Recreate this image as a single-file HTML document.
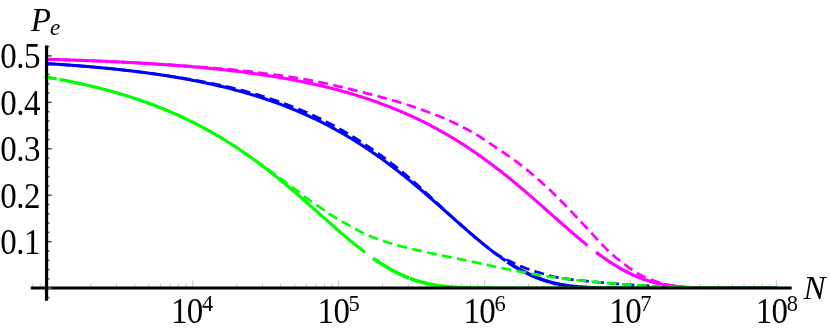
<!DOCTYPE html>
<html><head><meta charset="utf-8"><title>Pe vs N</title>
<style>
html,body{margin:0;padding:0;background:#fff;}
svg{display:block}
.t{font-family:"Liberation Serif",serif;font-size:35.1px;fill:#000}
.i{font-family:"Liberation Serif",serif;font-style:italic;fill:#000}
</style></head><body>
<svg width="830" height="332" viewBox="0 0 830 332">
<rect width="830" height="332" fill="#fff"/>
<g><line x1="46.90" y1="287.2" x2="46.90" y2="280.2" stroke="#aaa" stroke-width="0.7"/><line x1="90.82" y1="287.2" x2="90.82" y2="283.7" stroke="#aaa" stroke-width="0.7"/><line x1="116.51" y1="287.2" x2="116.51" y2="283.7" stroke="#aaa" stroke-width="0.7"/><line x1="134.74" y1="287.2" x2="134.74" y2="283.7" stroke="#aaa" stroke-width="0.7"/><line x1="148.88" y1="287.2" x2="148.88" y2="283.7" stroke="#aaa" stroke-width="0.7"/><line x1="160.43" y1="287.2" x2="160.43" y2="283.7" stroke="#aaa" stroke-width="0.7"/><line x1="170.20" y1="287.2" x2="170.20" y2="283.7" stroke="#aaa" stroke-width="0.7"/><line x1="178.66" y1="287.2" x2="178.66" y2="283.7" stroke="#aaa" stroke-width="0.7"/><line x1="186.12" y1="287.2" x2="186.12" y2="283.7" stroke="#aaa" stroke-width="0.7"/><line x1="192.80" y1="287.2" x2="192.80" y2="280.2" stroke="#aaa" stroke-width="0.7"/><line x1="236.72" y1="287.2" x2="236.72" y2="283.7" stroke="#aaa" stroke-width="0.7"/><line x1="262.41" y1="287.2" x2="262.41" y2="283.7" stroke="#aaa" stroke-width="0.7"/><line x1="280.64" y1="287.2" x2="280.64" y2="283.7" stroke="#aaa" stroke-width="0.7"/><line x1="294.78" y1="287.2" x2="294.78" y2="283.7" stroke="#aaa" stroke-width="0.7"/><line x1="306.33" y1="287.2" x2="306.33" y2="283.7" stroke="#aaa" stroke-width="0.7"/><line x1="316.10" y1="287.2" x2="316.10" y2="283.7" stroke="#aaa" stroke-width="0.7"/><line x1="324.56" y1="287.2" x2="324.56" y2="283.7" stroke="#aaa" stroke-width="0.7"/><line x1="332.02" y1="287.2" x2="332.02" y2="283.7" stroke="#aaa" stroke-width="0.7"/><line x1="338.70" y1="287.2" x2="338.70" y2="280.2" stroke="#aaa" stroke-width="0.7"/><line x1="382.62" y1="287.2" x2="382.62" y2="283.7" stroke="#aaa" stroke-width="0.7"/><line x1="408.31" y1="287.2" x2="408.31" y2="283.7" stroke="#aaa" stroke-width="0.7"/><line x1="426.54" y1="287.2" x2="426.54" y2="283.7" stroke="#aaa" stroke-width="0.7"/><line x1="440.68" y1="287.2" x2="440.68" y2="283.7" stroke="#aaa" stroke-width="0.7"/><line x1="452.23" y1="287.2" x2="452.23" y2="283.7" stroke="#aaa" stroke-width="0.7"/><line x1="462.00" y1="287.2" x2="462.00" y2="283.7" stroke="#aaa" stroke-width="0.7"/><line x1="470.46" y1="287.2" x2="470.46" y2="283.7" stroke="#aaa" stroke-width="0.7"/><line x1="477.92" y1="287.2" x2="477.92" y2="283.7" stroke="#aaa" stroke-width="0.7"/><line x1="484.60" y1="287.2" x2="484.60" y2="280.2" stroke="#aaa" stroke-width="0.7"/><line x1="528.52" y1="287.2" x2="528.52" y2="283.7" stroke="#aaa" stroke-width="0.7"/><line x1="554.21" y1="287.2" x2="554.21" y2="283.7" stroke="#aaa" stroke-width="0.7"/><line x1="572.44" y1="287.2" x2="572.44" y2="283.7" stroke="#aaa" stroke-width="0.7"/><line x1="586.58" y1="287.2" x2="586.58" y2="283.7" stroke="#aaa" stroke-width="0.7"/><line x1="598.13" y1="287.2" x2="598.13" y2="283.7" stroke="#aaa" stroke-width="0.7"/><line x1="607.90" y1="287.2" x2="607.90" y2="283.7" stroke="#aaa" stroke-width="0.7"/><line x1="616.36" y1="287.2" x2="616.36" y2="283.7" stroke="#aaa" stroke-width="0.7"/><line x1="623.82" y1="287.2" x2="623.82" y2="283.7" stroke="#aaa" stroke-width="0.7"/><line x1="630.50" y1="287.2" x2="630.50" y2="280.2" stroke="#aaa" stroke-width="0.7"/><line x1="674.42" y1="287.2" x2="674.42" y2="283.7" stroke="#aaa" stroke-width="0.7"/><line x1="700.11" y1="287.2" x2="700.11" y2="283.7" stroke="#aaa" stroke-width="0.7"/><line x1="718.34" y1="287.2" x2="718.34" y2="283.7" stroke="#aaa" stroke-width="0.7"/><line x1="732.48" y1="287.2" x2="732.48" y2="283.7" stroke="#aaa" stroke-width="0.7"/><line x1="744.03" y1="287.2" x2="744.03" y2="283.7" stroke="#aaa" stroke-width="0.7"/><line x1="753.80" y1="287.2" x2="753.80" y2="283.7" stroke="#aaa" stroke-width="0.7"/><line x1="762.26" y1="287.2" x2="762.26" y2="283.7" stroke="#aaa" stroke-width="0.7"/><line x1="769.72" y1="287.2" x2="769.72" y2="283.7" stroke="#aaa" stroke-width="0.7"/><line x1="776.40" y1="287.2" x2="776.40" y2="280.2" stroke="#aaa" stroke-width="0.7"/><line x1="32.76" y1="287.2" x2="32.76" y2="283.7" stroke="#aaa" stroke-width="0.7"/><line x1="40.22" y1="287.2" x2="40.22" y2="283.7" stroke="#aaa" stroke-width="0.7"/></g>
<g><line x1="46.9" y1="297.49" x2="49.60" y2="297.49" stroke="#666" stroke-width="1.6"/><line x1="46.9" y1="278.91" x2="49.60" y2="278.91" stroke="#666" stroke-width="1.6"/><line x1="46.9" y1="269.61" x2="49.60" y2="269.61" stroke="#666" stroke-width="1.6"/><line x1="46.9" y1="260.32" x2="49.60" y2="260.32" stroke="#666" stroke-width="1.6"/><line x1="46.9" y1="251.02" x2="49.60" y2="251.02" stroke="#666" stroke-width="1.6"/><line x1="46.9" y1="241.73" x2="51.60" y2="241.73" stroke="#555" stroke-width="1.6"/><line x1="46.9" y1="232.44" x2="49.60" y2="232.44" stroke="#666" stroke-width="1.6"/><line x1="46.9" y1="223.14" x2="49.60" y2="223.14" stroke="#666" stroke-width="1.6"/><line x1="46.9" y1="213.85" x2="49.60" y2="213.85" stroke="#666" stroke-width="1.6"/><line x1="46.9" y1="204.55" x2="49.60" y2="204.55" stroke="#666" stroke-width="1.6"/><line x1="46.9" y1="195.26" x2="51.60" y2="195.26" stroke="#555" stroke-width="1.6"/><line x1="46.9" y1="185.97" x2="49.60" y2="185.97" stroke="#666" stroke-width="1.6"/><line x1="46.9" y1="176.67" x2="49.60" y2="176.67" stroke="#666" stroke-width="1.6"/><line x1="46.9" y1="167.38" x2="49.60" y2="167.38" stroke="#666" stroke-width="1.6"/><line x1="46.9" y1="158.08" x2="49.60" y2="158.08" stroke="#666" stroke-width="1.6"/><line x1="46.9" y1="148.79" x2="51.60" y2="148.79" stroke="#555" stroke-width="1.6"/><line x1="46.9" y1="139.50" x2="49.60" y2="139.50" stroke="#666" stroke-width="1.6"/><line x1="46.9" y1="130.20" x2="49.60" y2="130.20" stroke="#666" stroke-width="1.6"/><line x1="46.9" y1="120.91" x2="49.60" y2="120.91" stroke="#666" stroke-width="1.6"/><line x1="46.9" y1="111.61" x2="49.60" y2="111.61" stroke="#666" stroke-width="1.6"/><line x1="46.9" y1="102.32" x2="51.60" y2="102.32" stroke="#555" stroke-width="1.6"/><line x1="46.9" y1="93.03" x2="49.60" y2="93.03" stroke="#666" stroke-width="1.6"/><line x1="46.9" y1="83.73" x2="49.60" y2="83.73" stroke="#666" stroke-width="1.6"/><line x1="46.9" y1="74.44" x2="49.60" y2="74.44" stroke="#666" stroke-width="1.6"/><line x1="46.9" y1="65.14" x2="49.60" y2="65.14" stroke="#666" stroke-width="1.6"/><line x1="46.9" y1="55.85" x2="51.60" y2="55.85" stroke="#555" stroke-width="1.6"/><line x1="46.9" y1="46.56" x2="49.60" y2="46.56" stroke="#666" stroke-width="1.6"/></g>
<clipPath id="cp"><rect x="0" y="0" width="830" height="286.9"/></clipPath>
<g stroke-linecap="butt" stroke-linejoin="round" clip-path="url(#cp)">
<path d="M45.00,63.49 L46.00,63.55 L47.00,63.61 L48.00,63.68 L49.00,63.74 L50.00,63.80 L51.00,63.86 L52.00,63.93 L53.00,63.99 L54.00,64.05 L55.00,64.12 L56.00,64.18 L57.00,64.25 L58.00,64.32 L59.00,64.38 L60.00,64.45 L61.00,64.52 L62.00,64.59 L63.00,64.66 L64.00,64.73 L65.00,64.80 L66.00,64.87 L67.00,64.94 L68.00,65.01 L69.00,65.08 L70.00,65.16 L71.00,65.23 L72.00,65.31 L73.00,65.38 L74.00,65.46 L75.00,65.53 L76.00,65.61 L77.00,65.69 L78.00,65.76 L79.00,65.84 L80.00,65.92 L81.00,66.00 L82.00,66.08 L83.00,66.16 L84.00,66.24 L85.00,66.33 L86.00,66.41 L87.00,66.49 L88.00,66.58 L89.00,66.66 L90.00,66.75 L91.00,66.83 L92.00,66.92 L93.00,67.01 L94.00,67.10 L95.00,67.18 L96.00,67.27 L97.00,67.36 L98.00,67.46 L99.00,67.55 L100.00,67.64 L101.00,67.73 L102.00,67.83 L103.00,67.92 L104.00,68.02 L105.00,68.11 L106.00,68.21 L107.00,68.31 L108.00,68.41 L109.00,68.51 L110.00,68.61 L111.00,68.71 L112.00,68.81 L113.00,68.91 L114.00,69.02 L115.00,69.12 L116.00,69.22 L117.00,69.33 L118.00,69.44 L119.00,69.54 L120.00,69.65 L121.00,69.76 L122.00,69.87 L123.00,69.98 L124.00,70.09 L125.00,70.21 L126.00,70.32 L127.00,70.43 L128.00,70.55 L129.00,70.67 L130.00,70.78 L131.00,70.90 L132.00,71.02 L133.00,71.14 L134.00,71.26 L135.00,71.38 L136.00,71.51 L137.00,71.63 L138.00,71.75 L139.00,71.88 L140.00,72.01 L141.00,72.13 L142.00,72.26 L143.00,72.39 L144.00,72.52 L145.00,72.66 L146.00,72.79 L147.00,72.92 L148.00,73.06 L149.00,73.19 L150.00,73.33 L151.00,73.47 L152.00,73.61 L153.00,73.75 L154.00,73.89 L155.00,74.03 L156.00,74.17 L157.00,74.32 L158.00,74.46 L159.00,74.61 L160.00,74.76 L161.00,74.91 L162.00,75.06 L163.00,75.21 L164.00,75.36 L165.00,75.52 L166.00,75.67 L167.00,75.83 L168.00,75.99 L169.00,76.15 L170.00,76.31 L171.00,76.47 L172.00,76.63 L173.00,76.79 L174.00,76.96 L175.00,77.13 L176.00,77.29 L177.00,77.46 L178.00,77.63 L179.00,77.81 L180.00,77.98 L181.00,78.15 L182.00,78.33 L183.00,78.51 L184.00,78.68 L185.00,78.86 L186.00,79.05 L187.00,79.23 L188.00,79.41 L189.00,79.60 L190.00,79.79 L191.00,79.97 L192.00,80.16 L193.00,80.36 L194.00,80.55 L195.00,80.74 L196.00,80.94 L197.00,81.14 L198.00,81.34 L199.00,81.54 L200.00,81.74 L201.00,81.94 L202.00,82.15 L203.00,82.35 L204.00,82.56 L205.00,82.77 L206.00,82.98 L207.00,83.20 L208.00,83.41 L209.00,83.63 L210.00,83.85 L211.00,84.07 L212.00,84.29 L213.00,84.51 L214.00,84.74 L215.00,84.97 L216.00,85.19 L217.00,85.43 L218.00,85.66 L219.00,85.89 L220.00,86.13 L221.00,86.37 L222.00,86.60 L223.00,86.85 L224.00,87.09 L225.00,87.33 L226.00,87.58 L227.00,87.83 L228.00,88.08 L229.00,88.33 L230.00,88.59 L231.00,88.85 L232.00,89.10 L233.00,89.36 L234.00,89.63 L235.00,89.89 L236.00,90.16 L237.00,90.43 L238.00,90.70 L239.00,90.97 L240.00,91.24 L241.00,91.52 L242.00,91.80 L243.00,92.08 L244.00,92.37 L245.00,92.65 L246.00,92.94 L247.00,93.23 L248.00,93.52 L249.00,93.81 L250.00,94.11 L251.00,94.41 L252.00,94.71 L253.00,95.01 L254.00,95.32 L255.00,95.63 L256.00,95.94 L257.00,96.25 L258.00,96.56 L259.00,96.88 L260.00,97.20 L261.00,97.52 L262.00,97.85 L263.00,98.18 L264.00,98.50 L265.00,98.84 L266.00,99.17 L267.00,99.51 L268.00,99.85 L269.00,100.19 L270.00,100.53 L271.00,100.88 L272.00,101.23 L273.00,101.58 L274.00,101.94 L275.00,102.29 L276.00,102.65 L277.00,103.02 L278.00,103.38 L279.00,103.75 L280.00,104.12 L281.00,104.49 L282.00,104.87 L283.00,105.25 L284.00,105.63 L285.00,106.02 L286.00,106.40 L287.00,106.79 L288.00,107.19 L289.00,107.58 L290.00,107.98 L291.00,108.38 L292.00,108.79 L293.00,109.20 L294.00,109.61 L295.00,110.02 L296.00,110.44 L297.00,110.86 L298.00,111.28 L299.00,111.71 L300.00,112.13 L301.00,112.57 L302.00,113.00 L303.00,113.44 L304.00,113.88 L305.00,114.32 L306.00,114.77 L307.00,115.22 L308.00,115.68 L309.00,116.13 L310.00,116.59 L311.00,117.06 L312.00,117.52 L313.00,117.99 L314.00,118.47 L315.00,118.94 L316.00,119.42 L317.00,119.91 L318.00,120.39 L319.00,120.88 L320.00,121.37 L321.00,121.87 L322.00,122.37 L323.00,122.88 L324.00,123.38 L325.00,123.89 L326.00,124.41 L327.00,124.92 L328.00,125.44 L329.00,125.97 L330.00,126.50 L331.00,127.03 L332.00,127.56 L333.00,128.10 L334.00,128.64 L335.00,129.19 L336.00,129.74 L337.00,130.29 L338.00,130.85 L339.00,131.41 L340.00,131.97 L341.00,132.54 L342.00,133.11 L343.00,133.69 L344.00,134.27 L345.00,134.85 L346.00,135.43 L347.00,136.02 L348.00,136.62 L349.00,137.21 L350.00,137.81 L351.00,138.42 L352.00,139.03 L353.00,139.64 L354.00,140.26 L355.00,140.88 L356.00,141.50 L357.00,142.13 L358.00,142.76 L359.00,143.39 L360.00,144.03 L361.00,144.68 L362.00,145.32 L363.00,145.97 L364.00,146.63 L365.00,147.28 L366.00,147.95 L367.00,148.61 L368.00,149.28 L369.00,149.96 L370.00,150.63 L371.00,151.31 L372.00,152.00 L373.00,152.69 L374.00,153.38 L375.00,154.08 L376.00,154.78 L377.00,155.48 L378.00,156.19 L379.00,156.90 L380.00,157.61 L381.00,158.33 L382.00,159.05 L383.00,159.78 L384.00,160.51 L385.00,161.24 L386.00,161.98 L387.00,162.72 L388.00,163.47 L389.00,164.22 L390.00,164.97 L391.00,165.72 L392.00,166.48 L393.00,167.25 L394.00,168.01 L395.00,168.78 L396.00,169.56 L397.00,170.33 L398.00,171.11 L399.00,171.90 L400.00,172.68 L401.00,173.47 L402.00,174.27 L403.00,175.07 L404.00,175.87 L405.00,176.67 L406.00,177.48 L407.00,178.29 L408.00,179.10 L409.00,179.91 L410.00,180.73 L411.00,181.56 L412.00,182.38 L413.00,183.21 L414.00,184.04 L415.00,184.87 L416.00,185.71 L417.00,186.55 L418.00,187.39 L419.00,188.23 L420.00,189.08 L421.00,189.93 L422.00,190.78 L423.00,191.63 L424.00,192.49 L425.00,193.35 L426.00,194.21 L427.00,195.07 L428.00,195.94 L429.00,196.80 L430.00,197.67 L431.00,198.54 L432.00,199.41 L433.00,200.29 L434.00,201.16 L435.00,202.04 L436.00,202.92 L437.00,203.80 L438.00,204.68 L439.00,205.56 L440.00,206.44 L441.00,207.32 L442.00,208.21 L443.00,209.09 L444.00,209.98 L445.00,210.86 L446.00,211.75 L447.00,212.64 L448.00,213.52 L449.00,214.41 L450.00,215.30 L451.00,216.19 L452.00,217.07 L453.00,217.96 L454.00,218.85 L455.00,219.73 L456.00,220.62 L457.00,221.50 L458.00,222.38 L459.00,223.27 L460.00,224.15 L461.00,225.03 L462.00,225.91 L463.00,226.78 L464.00,227.66 L465.00,228.53 L466.00,229.40 L467.00,230.27 L468.00,231.14 L469.00,232.00 L470.00,232.86 L471.00,233.72 L472.00,234.58 L473.00,235.43 L474.00,236.28 L475.00,237.13 L476.00,237.97 L477.00,238.81 L478.00,239.65 L479.00,240.48 L480.00,241.31 L481.00,242.14 L482.00,242.96 L483.00,243.77 L484.00,244.59 L485.00,245.39 L486.00,246.19 L487.00,246.99 L488.00,247.78 L489.00,248.57 L490.00,249.35 L491.00,250.13 L492.00,250.90 L493.00,251.66 L494.00,252.42 L495.00,253.17 L496.00,253.92 L497.00,254.65 L498.00,255.39 L499.00,256.11 L500.00,256.83 L501.00,257.54 L502.00,258.25 L503.00,258.95 L504.00,259.64 L505.00,260.32 L505.50,260.66" fill="none" stroke="#0000ff" stroke-width="3.1"/>
<path d="M507.40,261.93 L508.40,262.58 L509.40,263.23 L510.40,263.87 L511.40,264.51 L512.40,265.13 L513.40,265.75 L514.40,266.35 L515.40,266.95 L516.40,267.54 L517.40,268.12 L518.40,268.69 L519.40,269.26 L520.40,269.81 L521.40,270.36 L522.40,270.89 L523.40,271.42 L524.40,271.94 L525.40,272.45 L526.40,272.95 L527.40,273.44 L528.40,273.92 L529.40,274.39 L530.40,274.85 L531.40,275.30 L532.40,275.75 L533.40,276.18 L534.40,276.61 L535.40,277.02 L536.40,277.43 L537.40,277.82 L538.40,278.21 L539.40,278.59 L540.40,278.95 L541.40,279.31 L542.40,279.66 L543.40,280.00 L544.40,280.33 L545.40,280.66 L546.40,280.97 L547.40,281.27 L548.40,281.57 L549.40,281.86 L550.40,282.13 L551.40,282.40 L552.40,282.67 L553.40,282.92 L554.40,283.16 L555.40,283.40 L556.40,283.63 L557.40,283.85 L558.40,284.06 L559.40,284.27 L560.40,284.47 L561.40,284.66 L562.40,284.84 L563.40,285.02 L564.40,285.19 L565.40,285.35 L566.40,285.50 L567.40,285.65 L568.40,285.80 L569.40,285.93 L570.40,286.07 L571.40,286.19 L572.40,286.31 L573.40,286.42 L574.40,286.53 L575.40,286.64 L576.40,286.73 L577.40,286.83 L578.40,286.92 L579.40,287.00 L580.40,287.08 L581.40,287.16 L582.40,287.23 L583.40,287.29 L584.40,287.36 L585.40,287.42 L586.40,287.47 L587.40,287.53 L588.40,287.58 L589.40,287.62 L590.40,287.67 L591.40,287.71 L592.40,287.75 L593.40,287.78 L594.40,287.82 L595.40,287.85 L596.40,287.88 L597.40,287.91 L598.40,287.93 L599.40,287.95 L600.40,287.98 L601.40,288.00 L602.40,288.01 L603.40,288.03 L604.40,288.05 L605.40,288.06 L606.40,288.07 L607.40,288.09 L608.40,288.10 L609.40,288.11 L610.40,288.12 L611.40,288.13 L612.40,288.13 L613.40,288.14 L614.40,288.15 L615.40,288.15 L616.40,288.16 L617.40,288.16 L618.40,288.17 L619.40,288.17 L620.40,288.17 L621.40,288.18 L622.40,288.18 L623.40,288.18 L624.40,288.18 L625.40,288.19 L626.40,288.19 L627.40,288.19 L628.40,288.19 L629.40,288.19 L630.40,288.19 L631.40,288.19 L632.40,288.20 L633.40,288.20 L634.40,288.20 L635.40,288.20 L636.40,288.20 L637.40,288.20 L638.40,288.20 L639.40,288.20 L640.40,288.20 L641.40,288.20 L642.40,288.20 L643.40,288.20 L644.40,288.20 L645.40,288.20 L646.40,288.20 L647.40,288.20 L648.40,288.20 L649.40,288.20 L650.40,288.20 L651.40,288.20 L652.40,288.20 L653.40,288.20 L654.40,288.20 L655.40,288.20 L656.40,288.20 L657.40,288.20 L658.40,288.20 L659.40,288.20 L660.40,288.20 L661.40,288.20 L662.40,288.20 L663.40,288.20 L664.40,288.20 L665.40,288.20 L666.40,288.20 L667.40,288.20 L668.40,288.20 L669.40,288.20 L670.40,288.20 L671.40,288.20 L672.40,288.20 L673.40,288.20 L674.40,288.20 L675.40,288.20 L676.40,288.20 L677.40,288.20 L678.40,288.20 L679.40,288.20 L680.40,288.20 L681.40,288.20 L682.40,288.20 L683.40,288.20 L684.40,288.20 L685.40,288.20 L686.40,288.20 L687.40,288.20 L688.40,288.20 L689.40,288.20 L690.40,288.20 L691.40,288.20 L692.40,288.20 L693.40,288.20 L694.40,288.20 L695.40,288.20 L696.40,288.20 L697.40,288.20 L698.40,288.20 L699.40,288.20 L700.40,288.20 L701.40,288.20 L702.40,288.20 L703.40,288.20 L704.40,288.20 L705.40,288.20 L706.40,288.20 L707.40,288.20 L708.40,288.20 L709.40,288.20 L710.40,288.20 L711.40,288.20 L712.40,288.20 L713.40,288.20 L714.40,288.20 L715.40,288.20 L716.40,288.20 L717.40,288.20 L718.40,288.20 L719.40,288.20 L720.40,288.20 L721.40,288.20 L722.40,288.20 L723.40,288.20 L724.40,288.20 L725.40,288.20 L726.40,288.20 L727.40,288.20 L728.40,288.20 L729.40,288.20 L730.40,288.20 L731.40,288.20 L732.40,288.20 L733.40,288.20 L734.40,288.20 L735.40,288.20 L736.40,288.20 L737.40,288.20 L738.40,288.20 L739.40,288.20 L740.40,288.20 L741.40,288.20 L742.40,288.20 L743.40,288.20 L744.40,288.20 L745.40,288.20 L746.40,288.20 L747.40,288.20 L748.40,288.20 L749.40,288.20 L750.40,288.20 L751.40,288.20 L752.40,288.20 L753.40,288.20 L754.40,288.20 L755.40,288.20 L756.40,288.20 L757.40,288.20 L758.40,288.20 L759.40,288.20 L760.40,288.20 L761.40,288.20 L762.40,288.20 L763.40,288.20 L764.40,288.20 L765.40,288.20 L766.40,288.20 L767.40,288.20 L768.40,288.20 L769.40,288.20 L770.40,288.20 L771.40,288.20 L772.40,288.20 L773.40,288.20 L774.40,288.20 L775.40,288.20 L776.40,288.20 L777.40,288.20 L778.00,288.20" fill="none" stroke="#0000ff" stroke-width="3.6"/>
<path d="M45.00,63.49 L46.00,63.55 L47.00,63.61 L48.00,63.68 L49.00,63.74 L50.00,63.80 L51.00,63.86 L52.00,63.93 L53.00,63.99 L54.00,64.05 L55.00,64.12 L56.00,64.18 L57.00,64.25 L58.00,64.32 L59.00,64.38 L60.00,64.45 L61.00,64.52 L62.00,64.59 L63.00,64.66 L64.00,64.73 L65.00,64.80 L66.00,64.87 L67.00,64.94 L68.00,65.01 L69.00,65.08 L70.00,65.16 L71.00,65.23 L72.00,65.31 L73.00,65.38 L74.00,65.46 L75.00,65.53 L76.00,65.61 L77.00,65.69 L78.00,65.76 L79.00,65.84 L80.00,65.92 L81.00,66.00 L82.00,66.08 L83.00,66.16 L84.00,66.24 L85.00,66.33 L86.00,66.41 L87.00,66.49 L88.00,66.58 L89.00,66.66 L90.00,66.75 L91.00,66.83 L92.00,66.92 L93.00,67.01 L94.00,67.10 L95.00,67.18 L96.00,67.27 L97.00,67.36 L98.00,67.46 L99.00,67.55 L100.00,67.64 L101.00,67.73 L102.00,67.83 L103.00,67.92 L104.00,68.02 L105.00,68.11 L106.00,68.21 L107.00,68.31 L108.00,68.41 L109.00,68.51 L110.00,68.61 L111.00,68.71 L112.00,68.81 L113.00,68.91 L114.00,69.02 L115.00,69.12 L116.00,69.22 L117.00,69.33 L118.00,69.44 L119.00,69.54 L120.00,69.65 L121.00,69.76 L122.00,69.87 L123.00,69.98 L124.00,70.09 L125.00,70.21 L126.00,70.32 L127.00,70.43 L128.00,70.55 L129.00,70.67 L130.00,70.78 L131.00,70.90 L132.00,71.02 L133.00,71.14 L134.00,71.26 L135.00,71.38 L136.00,71.51 L137.00,71.63 L138.00,71.75 L139.00,71.88 L140.00,72.01 L141.00,72.13 L142.00,72.26 L143.00,72.39 L144.00,72.52 L145.00,72.66 L146.00,72.79 L147.00,72.92 L148.00,73.06 L149.00,73.19 L150.00,73.33 L151.00,73.47 L152.00,73.60 L153.00,73.74 L154.00,73.88 L155.00,74.02 L156.00,74.15 L157.00,74.29 L158.00,74.43 L159.00,74.57 L160.00,74.71 L161.00,74.85 L162.00,74.99 L163.00,75.13 L164.00,75.27 L165.00,75.41 L166.00,75.56 L167.00,75.70 L168.00,75.85 L169.00,75.99 L170.00,76.14 L171.00,76.29 L172.00,76.44 L173.00,76.59 L174.00,76.74 L175.00,76.89 L176.00,77.05 L177.00,77.20 L178.00,77.36 L179.00,77.52 L180.00,77.68 L181.00,77.84 L182.00,78.00 L183.00,78.17 L184.00,78.33 L185.00,78.50 L186.00,78.67 L187.00,78.84 L188.00,79.01 L189.00,79.18 L190.00,79.35 L191.00,79.52 L192.00,79.70 L193.00,79.87 L194.00,80.05 L195.00,80.23 L196.00,80.41 L197.00,80.59 L198.00,80.77 L199.00,80.95 L200.00,81.14 L201.00,81.32 L202.00,81.51 L203.00,81.70 L204.00,81.89 L205.00,82.08 L206.00,82.27 L207.00,82.47 L208.00,82.66 L209.00,82.86 L210.00,83.06 L211.00,83.25 L212.00,83.46 L213.00,83.66 L214.00,83.86 L215.00,84.07 L216.00,84.28 L217.00,84.49 L218.00,84.70 L219.00,84.91 L220.00,85.13 L221.00,85.35 L222.00,85.56 L223.00,85.79 L224.00,86.01 L225.00,86.23 L226.00,86.46 L227.00,86.69 L228.00,86.92 L229.00,87.15 L230.00,87.39 L231.00,87.63 L232.00,87.86 L233.00,88.10 L234.00,88.35 L235.00,88.59 L236.00,88.84 L237.00,89.09 L238.00,89.34 L239.00,89.59 L240.00,89.84 L241.00,90.10 L242.00,90.36 L243.00,90.62 L244.00,90.88 L245.00,91.15 L246.00,91.41 L247.00,91.68 L248.00,91.95 L249.00,92.23 L250.00,92.50 L251.00,92.78 L252.00,93.07 L253.00,93.35 L254.00,93.64 L255.00,93.93 L256.00,94.22 L257.00,94.52 L258.00,94.82 L259.00,95.12 L260.00,95.42 L261.00,95.73 L262.00,96.04 L263.00,96.35 L264.00,96.67 L265.00,96.99 L266.00,97.31 L267.00,97.63 L268.00,97.95 L269.00,98.28 L270.00,98.61 L271.00,98.94 L272.00,99.28 L273.00,99.62 L274.00,99.95 L275.00,100.29 L276.00,100.64 L277.00,100.98 L278.00,101.33 L279.00,101.67 L280.00,102.03 L281.00,102.38 L282.00,102.73 L283.00,103.09 L284.00,103.45 L285.00,103.82 L286.00,104.18 L287.00,104.55 L288.00,104.93 L289.00,105.30 L290.00,105.68 L291.00,106.07 L292.00,106.45 L293.00,106.84 L294.00,107.23 L295.00,107.62 L296.00,108.02 L297.00,108.42 L298.00,108.82 L299.00,109.23 L300.00,109.64 L301.00,110.05 L302.00,110.46 L303.00,110.88 L304.00,111.30 L305.00,111.73 L306.00,112.16 L307.00,112.59 L308.00,113.03 L309.00,113.47 L310.00,113.91 L311.00,114.36 L312.00,114.81 L313.00,115.26 L314.00,115.72 L315.00,116.19 L316.00,116.66 L317.00,117.13 L318.00,117.61 L319.00,118.09 L320.00,118.57 L321.00,119.07 L322.00,119.56 L323.00,120.06 L324.00,120.56 L325.00,121.06 L326.00,121.57 L327.00,122.08 L328.00,122.60 L329.00,123.12 L330.00,123.64 L331.00,124.17 L332.00,124.70 L333.00,125.23 L334.00,125.77 L335.00,126.31 L336.00,126.86 L337.00,127.41 L338.00,127.96 L339.00,128.52 L340.00,129.08 L341.00,129.64 L342.00,130.21 L343.00,130.79 L344.00,131.37 L345.00,131.95 L346.00,132.53 L347.00,133.12 L348.00,133.72 L349.00,134.31 L350.00,134.91 L351.00,135.52 L352.00,136.13 L353.00,136.74 L354.00,137.36 L355.00,137.98 L356.00,138.60 L357.00,139.23 L358.00,139.86 L359.00,140.49 L360.00,141.13 L361.00,141.78 L362.00,142.42 L363.00,143.07 L364.00,143.73 L365.00,144.38 L366.00,145.05 L367.00,145.71 L368.00,146.38 L369.00,147.06 L370.00,147.73 L371.00,148.41 L372.00,149.10 L373.00,149.79 L374.00,150.48 L375.00,151.18 L376.00,151.88 L377.00,152.58 L378.00,153.29 L379.00,154.01 L380.00,154.73 L381.00,155.45 L382.00,156.18 L383.00,156.92 L384.00,157.66 L385.00,158.40 L386.00,159.15 L387.00,159.90 L388.00,160.66 L389.00,161.42 L390.00,162.19 L391.00,162.96 L392.00,163.73 L393.00,164.51 L394.00,165.29 L395.00,166.08 L396.00,166.87 L397.00,167.67 L398.00,168.47 L399.00,169.27 L400.00,170.08 L401.00,170.89 L402.00,171.70 L403.00,172.52 L404.00,173.34 L405.00,174.17 L406.00,175.00 L407.00,175.84 L408.00,176.69 L409.00,177.55 L410.00,178.41 L411.00,179.28 L412.00,180.15 L413.00,181.03 L414.00,181.92 L415.00,182.81 L416.00,183.70 L417.00,184.59 L418.00,185.49 L419.00,186.38 L420.00,187.28 L421.00,188.18 L422.00,189.08 L423.00,189.99 L424.00,190.90 L425.00,191.81 L426.00,192.72 L427.00,193.64 L428.00,194.56 L429.00,195.48 L430.00,196.40 L431.00,197.33 L432.00,198.25 L433.00,199.18 L434.00,200.11 L435.00,201.04 L436.00,201.97 L437.00,202.91 L438.00,203.85 L439.00,204.80 L440.00,205.74 L441.00,206.69 L442.00,207.64 L443.00,208.58 L444.00,209.53 L445.00,210.47 L446.00,211.41 L447.00,212.34 L448.00,213.27 L449.00,214.19 L450.00,215.10 L451.00,216.01 L452.00,216.92 L453.00,217.82 L454.00,218.73 L455.00,219.63 L456.00,220.53 L457.00,221.43 L458.00,222.33 L459.00,223.23 L460.00,224.12 L461.00,225.01 L462.00,225.89 L463.00,226.78 L464.00,227.66 L465.00,228.53 L466.00,229.40 L467.00,230.27 L468.00,231.14 L469.00,232.00 L470.00,232.86 L471.00,233.72 L472.00,234.58 L473.00,235.43 L474.00,236.28 L475.00,237.13 L476.00,237.97 L477.00,238.81 L478.00,239.65 L479.00,240.48 L480.00,241.31 L481.00,242.14 L482.00,242.96 L483.00,243.77 L484.00,244.59 L485.00,245.39 L486.00,246.19 L487.00,246.99 L488.00,247.78 L489.00,248.57 L490.00,249.35 L491.00,250.13 L492.00,250.90 L493.00,251.66 L494.00,252.42 L495.00,253.17 L496.00,253.79 L497.00,254.40 L498.00,255.00 L499.00,255.58 L500.00,256.15 L501.00,256.71 L502.00,257.26 L503.00,257.79 L504.00,258.32 L505.00,258.83 L506.00,259.34 L507.00,259.84 L508.00,260.34 L509.00,260.83 L510.00,261.31 L511.00,261.79 L512.00,262.26 L513.00,262.73 L514.00,263.20 L515.00,263.66 L516.00,264.12 L517.00,264.58 L518.00,265.02 L519.00,265.46 L520.00,265.89 L521.00,266.31 L522.00,266.73 L523.00,267.13 L524.00,267.53 L525.00,267.91 L526.00,268.29 L527.00,268.65 L528.00,269.01 L529.00,269.36 L530.00,269.71 L531.00,270.05 L532.00,270.38 L533.00,270.71 L534.00,271.03 L535.00,271.35 L536.00,271.67 L537.00,271.98 L538.00,272.29 L539.00,272.60 L540.00,272.90 L541.00,273.21 L542.00,273.52 L543.00,273.83 L544.00,274.14 L545.00,274.44 L546.00,274.75 L547.00,275.04 L548.00,275.33 L549.00,275.61 L550.00,275.88 L551.00,276.13 L552.00,276.37 L553.00,276.60 L554.00,276.80 L555.00,277.00 L556.00,277.19 L557.00,277.37 L558.00,277.54 L559.00,277.71 L560.00,277.88 L561.00,278.04 L562.00,278.19 L563.00,278.34 L564.00,278.49 L565.00,278.63 L566.00,278.77 L567.00,278.90 L568.00,279.04 L569.00,279.17 L570.00,279.30 L571.00,279.43 L572.00,279.55 L573.00,279.67 L574.00,279.79 L575.00,279.91 L576.00,280.02 L577.00,280.13 L578.00,280.24 L579.00,280.34 L580.00,280.45 L581.00,280.55 L582.00,280.66 L583.00,280.76 L584.00,280.86 L585.00,280.96 L586.00,281.06 L587.00,281.16 L588.00,281.26 L589.00,281.36 L590.00,281.46 L591.00,281.55 L592.00,281.65 L593.00,281.75 L594.00,281.84 L595.00,281.93 L596.00,282.03 L597.00,282.12 L598.00,282.21 L599.00,282.30 L600.00,282.40 L601.00,282.48 L602.00,282.57 L603.00,282.66 L604.00,282.75 L605.00,282.84 L606.00,282.92 L607.00,283.01 L608.00,283.09 L609.00,283.18 L610.00,283.26 L611.00,283.34 L612.00,283.42 L613.00,283.51 L614.00,283.59 L615.00,283.67 L616.00,283.75 L617.00,283.83 L618.00,283.91 L619.00,283.99 L620.00,284.07 L621.00,284.15 L622.00,284.23 L623.00,284.30 L624.00,284.38 L625.00,284.45 L626.00,284.53 L627.00,284.60 L628.00,284.67 L629.00,284.74 L630.00,284.81 L631.00,284.87 L632.00,284.94 L633.00,285.00 L634.00,285.06 L635.00,285.12 L636.00,285.18 L637.00,285.24 L638.00,285.30 L639.00,285.35 L640.00,285.41 L641.00,285.46 L642.00,285.52 L643.00,285.57 L644.00,285.62 L645.00,285.67 L646.00,285.72 L647.00,285.77 L648.00,285.82 L649.00,285.87 L650.00,285.91 L651.00,285.96 L652.00,286.00 L653.00,286.05 L654.00,286.10 L655.00,286.14 L656.00,286.18 L657.00,286.23 L658.00,286.27 L659.00,286.31 L660.00,286.36 L661.00,286.40 L662.00,286.44 L663.00,286.49 L664.00,286.53 L665.00,286.58 L666.00,286.63 L667.00,286.67 L668.00,286.72 L669.00,286.76 L670.00,286.81 L671.00,286.86 L672.00,286.90 L673.00,286.95 L674.00,286.99 L675.00,287.04 L676.00,287.08 L677.00,287.12 L678.00,287.17 L679.00,287.21 L680.00,287.25 L681.00,287.29 L682.00,287.33 L683.00,287.37 L684.00,287.41 L685.00,287.44 L686.00,287.48 L687.00,287.51 L688.00,287.55 L689.00,287.58 L690.00,287.61 L691.00,287.63 L692.00,287.66 L693.00,287.68 L694.00,287.71 L695.00,287.73 L696.00,287.75 L697.00,287.76 L698.00,287.78 L699.00,287.79 L700.00,287.80 L701.00,287.81 L702.00,287.82 L703.00,287.83 L704.00,287.83 L705.00,287.84 L706.00,287.85 L707.00,287.86 L708.00,287.87 L709.00,287.88 L710.00,287.88 L711.00,287.89 L712.00,287.90 L713.00,287.91 L714.00,287.91 L715.00,287.92 L716.00,287.93 L717.00,287.94 L718.00,287.94 L719.00,287.95 L720.00,287.96 L721.00,287.96 L722.00,287.97 L723.00,287.98 L724.00,287.98 L725.00,287.99 L726.00,288.00 L727.00,288.00 L728.00,288.01 L729.00,288.01 L730.00,288.02 L731.00,288.03 L732.00,288.03 L733.00,288.04 L734.00,288.04 L735.00,288.05 L736.00,288.05 L737.00,288.06 L738.00,288.06 L739.00,288.07 L740.00,288.08 L741.00,288.08 L742.00,288.08 L743.00,288.09 L744.00,288.09 L745.00,288.10 L746.00,288.10 L747.00,288.11 L748.00,288.11 L749.00,288.12 L750.00,288.12 L751.00,288.12 L752.00,288.13 L753.00,288.13 L754.00,288.13 L755.00,288.14 L756.00,288.14 L757.00,288.15 L758.00,288.15 L759.00,288.15 L760.00,288.15 L761.00,288.16 L762.00,288.16 L763.00,288.16 L764.00,288.17 L765.00,288.17 L766.00,288.17 L767.00,288.17 L768.00,288.18 L769.00,288.18 L770.00,288.18 L771.00,288.18 L772.00,288.18 L773.00,288.19 L774.00,288.19 L775.00,288.19 L776.00,288.19 L777.00,288.19 L778.00,288.19" fill="none" stroke="#0000ff" stroke-width="2.7" stroke-dasharray="9.9 5.3" stroke-dashoffset="0"/>
<path d="M45.00,59.26 L46.00,59.28 L47.00,59.31 L48.00,59.34 L49.00,59.37 L50.00,59.39 L51.00,59.42 L52.00,59.45 L53.00,59.48 L54.00,59.51 L55.00,59.54 L56.00,59.57 L57.00,59.60 L58.00,59.62 L59.00,59.65 L60.00,59.68 L61.00,59.72 L62.00,59.75 L63.00,59.78 L64.00,59.81 L65.00,59.84 L66.00,59.87 L67.00,59.90 L68.00,59.93 L69.00,59.97 L70.00,60.00 L71.00,60.03 L72.00,60.07 L73.00,60.10 L74.00,60.13 L75.00,60.17 L76.00,60.20 L77.00,60.24 L78.00,60.27 L79.00,60.30 L80.00,60.34 L81.00,60.38 L82.00,60.41 L83.00,60.45 L84.00,60.48 L85.00,60.52 L86.00,60.56 L87.00,60.60 L88.00,60.63 L89.00,60.67 L90.00,60.71 L91.00,60.75 L92.00,60.79 L93.00,60.83 L94.00,60.86 L95.00,60.90 L96.00,60.94 L97.00,60.98 L98.00,61.03 L99.00,61.07 L100.00,61.11 L101.00,61.15 L102.00,61.19 L103.00,61.23 L104.00,61.28 L105.00,61.32 L106.00,61.36 L107.00,61.41 L108.00,61.45 L109.00,61.49 L110.00,61.54 L111.00,61.58 L112.00,61.63 L113.00,61.68 L114.00,61.72 L115.00,61.77 L116.00,61.81 L117.00,61.86 L118.00,61.91 L119.00,61.96 L120.00,62.01 L121.00,62.05 L122.00,62.10 L123.00,62.15 L124.00,62.20 L125.00,62.25 L126.00,62.30 L127.00,62.36 L128.00,62.41 L129.00,62.46 L130.00,62.51 L131.00,62.56 L132.00,62.62 L133.00,62.67 L134.00,62.72 L135.00,62.78 L136.00,62.83 L137.00,62.89 L138.00,62.95 L139.00,63.00 L140.00,63.06 L141.00,63.12 L142.00,63.17 L143.00,63.23 L144.00,63.29 L145.00,63.35 L146.00,63.41 L147.00,63.47 L148.00,63.53 L149.00,63.59 L150.00,63.65 L151.00,63.71 L152.00,63.77 L153.00,63.84 L154.00,63.90 L155.00,63.96 L156.00,64.03 L157.00,64.09 L158.00,64.16 L159.00,64.22 L160.00,64.29 L161.00,64.36 L162.00,64.42 L163.00,64.49 L164.00,64.56 L165.00,64.63 L166.00,64.70 L167.00,64.77 L168.00,64.84 L169.00,64.91 L170.00,64.98 L171.00,65.05 L172.00,65.13 L173.00,65.20 L174.00,65.27 L175.00,65.35 L176.00,65.42 L177.00,65.50 L178.00,65.58 L179.00,65.65 L180.00,65.73 L181.00,65.81 L182.00,65.89 L183.00,65.97 L184.00,66.05 L185.00,66.13 L186.00,66.21 L187.00,66.29 L188.00,66.37 L189.00,66.46 L190.00,66.54 L191.00,66.63 L192.00,66.71 L193.00,66.80 L194.00,66.88 L195.00,66.97 L196.00,67.06 L197.00,67.15 L198.00,67.24 L199.00,67.33 L200.00,67.42 L201.00,67.51 L202.00,67.60 L203.00,67.69 L204.00,67.79 L205.00,67.88 L206.00,67.98 L207.00,68.07 L208.00,68.17 L209.00,68.27 L210.00,68.37 L211.00,68.47 L212.00,68.57 L213.00,68.67 L214.00,68.77 L215.00,68.87 L216.00,68.97 L217.00,69.08 L218.00,69.18 L219.00,69.29 L220.00,69.39 L221.00,69.50 L222.00,69.61 L223.00,69.72 L224.00,69.83 L225.00,69.94 L226.00,70.05 L227.00,70.16 L228.00,70.27 L229.00,70.39 L230.00,70.50 L231.00,70.62 L232.00,70.73 L233.00,70.85 L234.00,70.97 L235.00,71.09 L236.00,71.21 L237.00,71.33 L238.00,71.45 L239.00,71.58 L240.00,71.70 L241.00,71.83 L242.00,71.95 L243.00,72.08 L244.00,72.21 L245.00,72.34 L246.00,72.47 L247.00,72.60 L248.00,72.73 L249.00,72.87 L250.00,73.00 L251.00,73.14 L252.00,73.27 L253.00,73.41 L254.00,73.55 L255.00,73.69 L256.00,73.83 L257.00,73.97 L258.00,74.11 L259.00,74.26 L260.00,74.40 L261.00,74.55 L262.00,74.70 L263.00,74.85 L264.00,75.00 L265.00,75.15 L266.00,75.30 L267.00,75.45 L268.00,75.61 L269.00,75.76 L270.00,75.92 L271.00,76.08 L272.00,76.24 L273.00,76.40 L274.00,76.56 L275.00,76.73 L276.00,76.89 L277.00,77.06 L278.00,77.22 L279.00,77.39 L280.00,77.56 L281.00,77.73 L282.00,77.91 L283.00,78.08 L284.00,78.26 L285.00,78.43 L286.00,78.61 L287.00,78.79 L288.00,78.97 L289.00,79.15 L290.00,79.34 L291.00,79.52 L292.00,79.71 L293.00,79.90 L294.00,80.08 L295.00,80.28 L296.00,80.47 L297.00,80.66 L298.00,80.86 L299.00,81.05 L300.00,81.25 L301.00,81.45 L302.00,81.65 L303.00,81.86 L304.00,82.06 L305.00,82.27 L306.00,82.48 L307.00,82.69 L308.00,82.90 L309.00,83.11 L310.00,83.32 L311.00,83.54 L312.00,83.76 L313.00,83.98 L314.00,84.20 L315.00,84.42 L316.00,84.65 L317.00,84.87 L318.00,85.10 L319.00,85.33 L320.00,85.56 L321.00,85.79 L322.00,86.03 L323.00,86.27 L324.00,86.51 L325.00,86.75 L326.00,86.99 L327.00,87.23 L328.00,87.48 L329.00,87.73 L330.00,87.98 L331.00,88.23 L332.00,88.48 L333.00,88.74 L334.00,89.00 L335.00,89.26 L336.00,89.52 L337.00,89.78 L338.00,90.05 L339.00,90.31 L340.00,90.58 L341.00,90.86 L342.00,91.13 L343.00,91.41 L344.00,91.68 L345.00,91.96 L346.00,92.25 L347.00,92.53 L348.00,92.82 L349.00,93.11 L350.00,93.40 L351.00,93.69 L352.00,93.99 L353.00,94.29 L354.00,94.59 L355.00,94.89 L356.00,95.19 L357.00,95.50 L358.00,95.81 L359.00,96.12 L360.00,96.43 L361.00,96.75 L362.00,97.07 L363.00,97.39 L364.00,97.71 L365.00,98.04 L366.00,98.37 L367.00,98.70 L368.00,99.03 L369.00,99.37 L370.00,99.71 L371.00,100.05 L372.00,100.39 L373.00,100.74 L374.00,101.08 L375.00,101.44 L376.00,101.79 L377.00,102.15 L378.00,102.50 L379.00,102.87 L380.00,103.23 L381.00,103.60 L382.00,103.97 L383.00,104.34 L384.00,104.71 L385.00,105.09 L386.00,105.47 L387.00,105.86 L388.00,106.24 L389.00,106.63 L390.00,107.02 L391.00,107.42 L392.00,107.82 L393.00,108.22 L394.00,108.62 L395.00,109.03 L396.00,109.44 L397.00,109.85 L398.00,110.26 L399.00,110.68 L400.00,111.10 L401.00,111.53 L402.00,111.96 L403.00,112.39 L404.00,112.82 L405.00,113.26 L406.00,113.70 L407.00,114.14 L408.00,114.58 L409.00,115.03 L410.00,115.49 L411.00,115.94 L412.00,116.40 L413.00,116.86 L414.00,117.33 L415.00,117.80 L416.00,118.27 L417.00,118.74 L418.00,119.22 L419.00,119.70 L420.00,120.19 L421.00,120.68 L422.00,121.17 L423.00,121.66 L424.00,122.16 L425.00,122.67 L426.00,123.17 L427.00,123.68 L428.00,124.19 L429.00,124.71 L430.00,125.23 L431.00,125.75 L432.00,126.28 L433.00,126.81 L434.00,127.34 L435.00,127.88 L436.00,128.42 L437.00,128.96 L438.00,129.51 L439.00,130.06 L440.00,130.62 L441.00,131.18 L442.00,131.74 L443.00,132.30 L444.00,132.87 L445.00,133.45 L446.00,134.02 L447.00,134.61 L448.00,135.19 L449.00,135.78 L450.00,136.37 L451.00,136.97 L452.00,137.56 L453.00,138.17 L454.00,138.78 L455.00,139.39 L456.00,140.00 L457.00,140.62 L458.00,141.24 L459.00,141.87 L460.00,142.50 L461.00,143.13 L462.00,143.77 L463.00,144.41 L464.00,145.05 L465.00,145.70 L466.00,146.35 L467.00,147.01 L468.00,147.67 L469.00,148.34 L470.00,149.00 L471.00,149.68 L472.00,150.35 L473.00,151.03 L474.00,151.71 L475.00,152.40 L476.00,153.09 L477.00,153.79 L478.00,154.48 L479.00,155.19 L480.00,155.89 L481.00,156.60 L482.00,157.32 L483.00,158.03 L484.00,158.75 L485.00,159.48 L486.00,160.21 L487.00,160.94 L488.00,161.68 L489.00,162.41 L490.00,163.16 L491.00,163.91 L492.00,164.66 L493.00,165.41 L494.00,166.17 L495.00,166.93 L496.00,167.69 L497.00,168.46 L498.00,169.23 L499.00,170.01 L500.00,170.79 L501.00,171.57 L502.00,172.36 L503.00,173.15 L504.00,173.94 L505.00,174.73 L506.00,175.53 L507.00,176.33 L508.00,177.14 L509.00,177.95 L510.00,178.76 L511.00,179.58 L512.00,180.39 L513.00,181.21 L514.00,182.04 L515.00,182.86 L516.00,183.69 L517.00,184.53 L518.00,185.36 L519.00,186.20 L520.00,187.04 L521.00,187.88 L522.00,188.73 L523.00,189.58 L524.00,190.43 L525.00,191.28 L526.00,192.14 L527.00,192.99 L528.00,193.85 L529.00,194.71 L530.00,195.58 L531.00,196.44 L532.00,197.31 L533.00,198.18 L534.00,199.05 L535.00,199.92 L536.00,200.80 L537.00,201.67 L538.00,202.55 L539.00,203.43 L540.00,204.31 L541.00,205.19 L542.00,206.07 L543.00,206.96 L544.00,207.84 L545.00,208.72 L546.00,209.61 L547.00,210.50 L548.00,211.38 L549.00,212.27 L550.00,213.16 L551.00,214.04 L552.00,214.93 L553.00,215.82 L554.00,216.71 L555.00,217.59 L556.00,218.48 L557.00,219.36 L558.00,220.25 L559.00,221.13 L560.00,222.02 L561.00,222.90 L562.00,223.78 L563.00,224.66 L564.00,225.54 L565.00,226.42 L566.00,227.29 L567.00,228.17 L568.00,229.04 L569.00,229.91 L570.00,230.78 L571.00,231.64 L572.00,232.51 L573.00,233.37 L574.00,234.22 L575.00,235.08 L576.00,235.93 L577.00,236.78 L578.00,237.62 L579.00,238.47 L580.00,239.30 L581.00,240.14 L582.00,240.97 L583.00,241.80 L584.00,242.62 L585.00,243.44 L586.00,244.25 L587.00,245.06 L587.60,245.54" fill="none" stroke="#ff00ff" stroke-width="3.1"/>
<path d="M596.00,252.10 L597.00,252.86 L598.00,253.61 L599.00,254.35 L600.00,255.08 L601.00,255.81 L602.00,256.53 L603.00,257.25 L604.00,257.96 L605.00,258.66 L606.00,259.35 L607.00,260.04 L608.00,260.72 L609.00,261.39 L610.00,262.05 L611.00,262.70 L612.00,263.35 L613.00,263.99 L614.00,264.62 L615.00,265.24 L616.00,265.86 L617.00,266.46 L618.00,267.06 L619.00,267.65 L620.00,268.23 L621.00,268.80 L622.00,269.36 L623.00,269.91 L624.00,270.46 L625.00,270.99 L626.00,271.52 L627.00,272.03 L628.00,272.54 L629.00,273.04 L630.00,273.53 L631.00,274.01 L632.00,274.48 L633.00,274.94 L634.00,275.39 L635.00,275.83 L636.00,276.26 L637.00,276.68 L638.00,277.10 L639.00,277.50 L640.00,277.89 L641.00,278.28 L642.00,278.65 L643.00,279.02 L644.00,279.38 L645.00,279.73 L646.00,280.06 L647.00,280.39 L648.00,280.71 L649.00,281.03 L650.00,281.33 L651.00,281.62 L652.00,281.91 L653.00,282.19 L654.00,282.45 L655.00,282.71 L656.00,282.96 L657.00,283.21 L658.00,283.44 L659.00,283.67 L660.00,283.89 L661.00,284.10 L662.00,284.31 L663.00,284.50 L664.00,284.69 L665.00,284.87 L666.00,285.05 L667.00,285.22 L668.00,285.38 L669.00,285.53 L670.00,285.68 L671.00,285.82 L672.00,285.96 L673.00,286.09 L674.00,286.21 L675.00,286.33 L676.00,286.44 L677.00,286.55 L678.00,286.65 L679.00,286.75 L680.00,286.84 L681.00,286.93 L682.00,287.02 L683.00,287.09 L684.00,287.17 L685.00,287.24 L686.00,287.31 L687.00,287.37 L688.00,287.43 L689.00,287.48 L690.00,287.54 L691.00,287.59 L692.00,287.63 L693.00,287.68 L694.00,287.72 L695.00,287.76 L696.00,287.79 L697.00,287.82 L698.00,287.86 L699.00,287.88 L700.00,287.91 L701.00,287.94 L702.00,287.96 L703.00,287.98 L704.00,288.00 L705.00,288.02 L706.00,288.03 L707.00,288.05 L708.00,288.06 L709.00,288.08 L710.00,288.09 L711.00,288.10 L712.00,288.11 L713.00,288.12 L714.00,288.13 L715.00,288.14 L716.00,288.14 L717.00,288.15 L718.00,288.15 L719.00,288.16 L720.00,288.16 L721.00,288.17 L722.00,288.17 L723.00,288.17 L724.00,288.18 L725.00,288.18 L726.00,288.18 L727.00,288.18 L728.00,288.19 L729.00,288.19 L730.00,288.19 L731.00,288.19 L732.00,288.19 L733.00,288.19 L734.00,288.19 L735.00,288.20 L736.00,288.20 L737.00,288.20 L738.00,288.20 L739.00,288.20 L740.00,288.20 L741.00,288.20 L742.00,288.20 L743.00,288.20 L744.00,288.20 L745.00,288.20 L746.00,288.20 L747.00,288.20 L748.00,288.20 L749.00,288.20 L750.00,288.20 L751.00,288.20 L752.00,288.20 L753.00,288.20 L754.00,288.20 L755.00,288.20 L756.00,288.20 L757.00,288.20 L758.00,288.20 L759.00,288.20 L760.00,288.20 L761.00,288.20 L762.00,288.20 L763.00,288.20 L764.00,288.20 L765.00,288.20 L766.00,288.20 L767.00,288.20 L768.00,288.20 L769.00,288.20 L770.00,288.20 L771.00,288.20 L772.00,288.20 L773.00,288.20 L774.00,288.20 L775.00,288.20 L776.00,288.20 L777.00,288.20 L778.00,288.20" fill="none" stroke="#ff00ff" stroke-width="3.25"/>
<path d="M45.00,59.26 L46.00,59.28 L47.00,59.31 L48.00,59.34 L49.00,59.37 L50.00,59.39 L51.00,59.42 L52.00,59.45 L53.00,59.48 L54.00,59.51 L55.00,59.54 L56.00,59.57 L57.00,59.60 L58.00,59.62 L59.00,59.65 L60.00,59.68 L61.00,59.72 L62.00,59.75 L63.00,59.78 L64.00,59.81 L65.00,59.84 L66.00,59.87 L67.00,59.90 L68.00,59.93 L69.00,59.97 L70.00,60.00 L71.00,60.03 L72.00,60.07 L73.00,60.10 L74.00,60.13 L75.00,60.17 L76.00,60.20 L77.00,60.24 L78.00,60.27 L79.00,60.30 L80.00,60.34 L81.00,60.38 L82.00,60.41 L83.00,60.45 L84.00,60.48 L85.00,60.52 L86.00,60.56 L87.00,60.60 L88.00,60.63 L89.00,60.67 L90.00,60.71 L91.00,60.75 L92.00,60.79 L93.00,60.83 L94.00,60.86 L95.00,60.90 L96.00,60.94 L97.00,60.98 L98.00,61.03 L99.00,61.07 L100.00,61.11 L101.00,61.15 L102.00,61.19 L103.00,61.23 L104.00,61.28 L105.00,61.32 L106.00,61.36 L107.00,61.41 L108.00,61.45 L109.00,61.49 L110.00,61.54 L111.00,61.58 L112.00,61.63 L113.00,61.68 L114.00,61.72 L115.00,61.77 L116.00,61.81 L117.00,61.86 L118.00,61.91 L119.00,61.96 L120.00,62.01 L121.00,62.05 L122.00,62.10 L123.00,62.15 L124.00,62.20 L125.00,62.25 L126.00,62.30 L127.00,62.36 L128.00,62.41 L129.00,62.46 L130.00,62.51 L131.00,62.56 L132.00,62.62 L133.00,62.67 L134.00,62.72 L135.00,62.78 L136.00,62.83 L137.00,62.89 L138.00,62.95 L139.00,63.00 L140.00,63.06 L141.00,63.12 L142.00,63.17 L143.00,63.23 L144.00,63.29 L145.00,63.35 L146.00,63.41 L147.00,63.47 L148.00,63.53 L149.00,63.59 L150.00,63.65 L151.00,63.71 L152.00,63.77 L153.00,63.83 L154.00,63.89 L155.00,63.95 L156.00,64.02 L157.00,64.08 L158.00,64.14 L159.00,64.20 L160.00,64.26 L161.00,64.32 L162.00,64.38 L163.00,64.44 L164.00,64.50 L165.00,64.56 L166.00,64.63 L167.00,64.69 L168.00,64.75 L169.00,64.81 L170.00,64.88 L171.00,64.94 L172.00,65.00 L173.00,65.07 L174.00,65.13 L175.00,65.20 L176.00,65.26 L177.00,65.33 L178.00,65.40 L179.00,65.46 L180.00,65.53 L181.00,65.60 L182.00,65.67 L183.00,65.74 L184.00,65.80 L185.00,65.87 L186.00,65.94 L187.00,66.01 L188.00,66.07 L189.00,66.14 L190.00,66.21 L191.00,66.28 L192.00,66.35 L193.00,66.42 L194.00,66.49 L195.00,66.56 L196.00,66.63 L197.00,66.70 L198.00,66.77 L199.00,66.84 L200.00,66.92 L201.00,66.99 L202.00,67.07 L203.00,67.14 L204.00,67.22 L205.00,67.29 L206.00,67.37 L207.00,67.44 L208.00,67.52 L209.00,67.60 L210.00,67.67 L211.00,67.75 L212.00,67.83 L213.00,67.91 L214.00,67.99 L215.00,68.07 L216.00,68.15 L217.00,68.24 L218.00,68.32 L219.00,68.41 L220.00,68.49 L221.00,68.58 L222.00,68.67 L223.00,68.75 L224.00,68.84 L225.00,68.93 L226.00,69.02 L227.00,69.11 L228.00,69.21 L229.00,69.30 L230.00,69.39 L231.00,69.49 L232.00,69.58 L233.00,69.68 L234.00,69.78 L235.00,69.88 L236.00,69.98 L237.00,70.08 L238.00,70.19 L239.00,70.29 L240.00,70.40 L241.00,70.51 L242.00,70.62 L243.00,70.74 L244.00,70.85 L245.00,70.97 L246.00,71.08 L247.00,71.20 L248.00,71.32 L249.00,71.45 L250.00,71.57 L251.00,71.69 L252.00,71.82 L253.00,71.94 L254.00,72.07 L255.00,72.20 L256.00,72.32 L257.00,72.45 L258.00,72.58 L259.00,72.71 L260.00,72.84 L261.00,72.97 L262.00,73.10 L263.00,73.23 L264.00,73.36 L265.00,73.49 L266.00,73.61 L267.00,73.74 L268.00,73.87 L269.00,74.00 L270.00,74.13 L271.00,74.26 L272.00,74.39 L273.00,74.52 L274.00,74.65 L275.00,74.79 L276.00,74.92 L277.00,75.06 L278.00,75.19 L279.00,75.33 L280.00,75.47 L281.00,75.61 L282.00,75.75 L283.00,75.89 L284.00,76.03 L285.00,76.17 L286.00,76.32 L287.00,76.46 L288.00,76.61 L289.00,76.75 L290.00,76.90 L291.00,77.05 L292.00,77.21 L293.00,77.36 L294.00,77.52 L295.00,77.67 L296.00,77.83 L297.00,77.99 L298.00,78.15 L299.00,78.31 L300.00,78.48 L301.00,78.64 L302.00,78.81 L303.00,78.98 L304.00,79.15 L305.00,79.33 L306.00,79.51 L307.00,79.69 L308.00,79.87 L309.00,80.05 L310.00,80.24 L311.00,80.43 L312.00,80.62 L313.00,80.81 L314.00,81.01 L315.00,81.20 L316.00,81.40 L317.00,81.60 L318.00,81.81 L319.00,82.01 L320.00,82.21 L321.00,82.42 L322.00,82.63 L323.00,82.84 L324.00,83.05 L325.00,83.26 L326.00,83.48 L327.00,83.70 L328.00,83.91 L329.00,84.13 L330.00,84.36 L331.00,84.58 L332.00,84.81 L333.00,85.04 L334.00,85.27 L335.00,85.50 L336.00,85.73 L337.00,85.97 L338.00,86.20 L339.00,86.44 L340.00,86.68 L341.00,86.92 L342.00,87.16 L343.00,87.41 L344.00,87.65 L345.00,87.89 L346.00,88.13 L347.00,88.37 L348.00,88.62 L349.00,88.86 L350.00,89.10 L351.00,89.35 L352.00,89.59 L353.00,89.84 L354.00,90.09 L355.00,90.34 L356.00,90.58 L357.00,90.83 L358.00,91.08 L359.00,91.33 L360.00,91.58 L361.00,91.84 L362.00,92.09 L363.00,92.34 L364.00,92.60 L365.00,92.85 L366.00,93.11 L367.00,93.37 L368.00,93.62 L369.00,93.88 L370.00,94.14 L371.00,94.40 L372.00,94.67 L373.00,94.93 L374.00,95.19 L375.00,95.46 L376.00,95.73 L377.00,95.99 L378.00,96.26 L379.00,96.53 L380.00,96.80 L381.00,97.08 L382.00,97.35 L383.00,97.62 L384.00,97.90 L385.00,98.18 L386.00,98.46 L387.00,98.73 L388.00,99.02 L389.00,99.30 L390.00,99.58 L391.00,99.87 L392.00,100.15 L393.00,100.44 L394.00,100.73 L395.00,101.02 L396.00,101.31 L397.00,101.61 L398.00,101.90 L399.00,102.20 L400.00,102.50 L401.00,102.80 L402.00,103.11 L403.00,103.41 L404.00,103.72 L405.00,104.04 L406.00,104.35 L407.00,104.67 L408.00,104.99 L409.00,105.32 L410.00,105.65 L411.00,105.98 L412.00,106.31 L413.00,106.65 L414.00,106.99 L415.00,107.33 L416.00,107.67 L417.00,108.02 L418.00,108.36 L419.00,108.71 L420.00,109.07 L421.00,109.42 L422.00,109.78 L423.00,110.14 L424.00,110.50 L425.00,110.86 L426.00,111.23 L427.00,111.60 L428.00,111.97 L429.00,112.34 L430.00,112.71 L431.00,113.09 L432.00,113.47 L433.00,113.85 L434.00,114.24 L435.00,114.62 L436.00,115.02 L437.00,115.41 L438.00,115.81 L439.00,116.21 L440.00,116.62 L441.00,117.03 L442.00,117.44 L443.00,117.86 L444.00,118.28 L445.00,118.71 L446.00,119.14 L447.00,119.57 L448.00,120.01 L449.00,120.46 L450.00,120.91 L451.00,121.36 L452.00,121.82 L453.00,122.28 L454.00,122.75 L455.00,123.22 L456.00,123.70 L457.00,124.18 L458.00,124.67 L459.00,125.16 L460.00,125.66 L461.00,126.16 L462.00,126.67 L463.00,127.18 L464.00,127.70 L465.00,128.22 L466.00,128.75 L467.00,129.28 L468.00,129.82 L469.00,130.36 L470.00,130.91 L471.00,131.47 L472.00,132.03 L473.00,132.60 L474.00,133.18 L475.00,133.77 L476.00,134.37 L477.00,134.97 L478.00,135.59 L479.00,136.22 L480.00,136.85 L481.00,137.49 L482.00,138.14 L483.00,138.79 L484.00,139.44 L485.00,140.11 L486.00,140.77 L487.00,141.44 L488.00,142.11 L489.00,142.79 L490.00,143.47 L491.00,144.14 L492.00,144.82 L493.00,145.50 L494.00,146.18 L495.00,146.86 L496.00,147.53 L497.00,148.20 L498.00,148.88 L499.00,149.55 L500.00,150.22 L501.00,150.89 L502.00,151.57 L503.00,152.24 L504.00,152.92 L505.00,153.60 L506.00,154.28 L507.00,154.96 L508.00,155.65 L509.00,156.34 L510.00,157.04 L511.00,157.74 L512.00,158.44 L513.00,159.15 L514.00,159.87 L515.00,160.59 L516.00,161.32 L517.00,162.06 L518.00,162.80 L519.00,163.56 L520.00,164.32 L521.00,165.09 L522.00,165.86 L523.00,166.65 L524.00,167.44 L525.00,168.24 L526.00,169.04 L527.00,169.86 L528.00,170.67 L529.00,171.50 L530.00,172.33 L531.00,173.17 L532.00,174.01 L533.00,174.86 L534.00,175.72 L535.00,176.58 L536.00,177.45 L537.00,178.32 L538.00,179.20 L539.00,180.08 L540.00,180.97 L541.00,181.86 L542.00,182.76 L543.00,183.66 L544.00,184.57 L545.00,185.48 L546.00,186.39 L547.00,187.31 L548.00,188.23 L549.00,189.16 L550.00,190.09 L551.00,191.04 L552.00,192.00 L553.00,192.96 L554.00,193.94 L555.00,194.92 L556.00,195.91 L557.00,196.90 L558.00,197.90 L559.00,198.91 L560.00,199.92 L561.00,200.94 L562.00,201.95 L563.00,202.98 L564.00,204.00 L565.00,205.03 L566.00,206.05 L567.00,207.08 L568.00,208.11 L569.00,209.14 L570.00,210.18 L571.00,211.23 L572.00,212.28 L573.00,213.34 L574.00,214.40 L575.00,215.47 L576.00,216.54 L577.00,217.61 L578.00,218.68 L579.00,219.76 L580.00,220.83 L581.00,221.90 L582.00,222.98 L583.00,224.05 L584.00,225.12 L585.00,226.18 L586.00,227.24 L587.00,228.30 L588.00,229.36 L589.00,230.43 L590.00,231.51 L591.00,232.59 L592.00,233.68 L593.00,234.77 L594.00,235.86 L595.00,236.95 L596.00,238.05 L597.00,239.14 L598.00,240.22 L599.00,241.30 L600.00,242.38 L601.00,243.45 L602.00,244.50 L603.00,245.55 L604.00,246.58 L605.00,247.60 L606.00,248.61 L607.00,249.59 L608.00,250.56 L609.00,251.51 L610.00,252.44 L611.00,253.35 L612.00,254.24 L613.00,255.12 L614.00,255.98 L615.00,256.83 L616.00,257.67 L617.00,258.50 L618.00,259.31 L619.00,260.11 L620.00,260.90 L621.00,261.68 L622.00,262.45 L623.00,263.21 L624.00,263.96 L625.00,264.70 L626.00,265.44 L627.00,266.18 L628.00,266.91 L629.00,267.64 L630.00,268.37 L631.00,269.08 L632.00,269.79 L633.00,270.48 L634.00,271.15 L635.00,271.80 L636.00,272.44 L637.00,273.05 L638.00,273.63 L639.00,274.19 L640.00,274.71 L641.00,275.23 L642.00,275.73 L643.00,276.21 L644.00,276.69 L645.00,277.15 L646.00,277.59 L647.00,278.03 L648.00,278.45 L649.00,278.86 L650.00,279.26 L651.00,279.64 L652.00,280.02 L653.00,280.38 L654.00,280.73 L655.00,281.08 L656.00,281.42 L657.00,281.76 L658.00,282.09 L659.00,282.41 L660.00,282.73 L661.00,283.03 L662.00,283.33 L663.00,283.61 L664.00,283.88 L665.00,284.13 L666.00,284.37 L667.00,284.60 L668.00,284.80 L669.00,284.99 L670.00,285.18 L671.00,285.36 L672.00,285.54 L673.00,285.71 L674.00,285.88 L675.00,286.03 L676.00,286.18 L677.00,286.32 L678.00,286.46 L679.00,286.58 L680.00,286.70 L681.00,286.81 L682.00,286.91 L683.00,287.00 L684.00,287.08 L685.00,287.17 L686.00,287.25 L687.00,287.33 L688.00,287.41 L689.00,287.49 L690.00,287.57 L691.00,287.64 L692.00,287.70 L693.00,287.76 L694.00,287.82 L695.00,287.87 L696.00,287.91 L697.00,287.94 L698.00,287.97 L699.00,287.99 L700.00,288.00 L701.00,288.01 L702.00,288.01 L703.00,288.02 L704.00,288.02 L705.00,288.03 L706.00,288.03 L707.00,288.04 L708.00,288.04 L709.00,288.05 L710.00,288.05 L711.00,288.05 L712.00,288.06 L713.00,288.06 L714.00,288.07 L715.00,288.07 L716.00,288.08 L717.00,288.08 L718.00,288.08 L719.00,288.09 L720.00,288.09 L721.00,288.09 L722.00,288.10 L723.00,288.10 L724.00,288.11 L725.00,288.11 L726.00,288.11 L727.00,288.11 L728.00,288.12 L729.00,288.12 L730.00,288.12 L731.00,288.13 L732.00,288.13 L733.00,288.13 L734.00,288.14 L735.00,288.14 L736.00,288.14 L737.00,288.14 L738.00,288.15 L739.00,288.15 L740.00,288.15 L741.00,288.15 L742.00,288.15 L743.00,288.16 L744.00,288.16 L745.00,288.16 L746.00,288.16 L747.00,288.16 L748.00,288.17 L749.00,288.17 L750.00,288.17 L751.00,288.17 L752.00,288.17 L753.00,288.17 L754.00,288.18 L755.00,288.18 L756.00,288.18 L757.00,288.18 L758.00,288.18 L759.00,288.18 L760.00,288.18 L761.00,288.19 L762.00,288.19 L763.00,288.19 L764.00,288.19 L765.00,288.19 L766.00,288.19 L767.00,288.19 L768.00,288.19 L769.00,288.19 L770.00,288.19 L771.00,288.19 L772.00,288.19 L773.00,288.20 L774.00,288.20 L775.00,288.20 L776.00,288.20 L777.00,288.20 L778.00,288.20" fill="none" stroke="#ff00ff" stroke-width="2.7" stroke-dasharray="9.9 5.3" stroke-dashoffset="-0.9"/>
<path d="M44.60,76.88 L45.60,77.04 L46.60,77.21 L47.60,77.38 L48.60,77.55 L49.60,77.72 L50.60,77.89 L51.60,78.07 L52.60,78.24 L53.60,78.42 L54.60,78.60 L55.60,78.78 L56.60,78.96 L56.70,78.98" fill="none" stroke="#00ff00" stroke-width="3.1"/>
<path d="M59.50,79.49 L60.50,79.68 L61.50,79.86 L62.50,80.05 L63.50,80.24 L64.50,80.44 L65.50,80.63 L66.50,80.82 L67.50,81.02 L68.50,81.22 L69.50,81.42 L70.50,81.62 L71.50,81.82 L72.50,82.03 L73.50,82.23 L74.50,82.44 L75.50,82.65 L76.50,82.86 L77.50,83.07 L78.50,83.29 L79.50,83.50 L80.50,83.72 L81.50,83.94 L82.50,84.16 L83.50,84.38 L84.50,84.61 L85.50,84.83 L86.50,85.06 L87.50,85.29 L88.50,85.52 L89.50,85.75 L90.50,85.99 L91.50,86.23 L92.50,86.46 L93.50,86.70 L94.50,86.95 L95.50,87.19 L96.50,87.44 L97.50,87.68 L98.50,87.93 L99.50,88.19 L100.50,88.44 L101.50,88.69 L102.50,88.95 L103.50,89.21 L104.50,89.47 L105.50,89.74 L106.50,90.00 L107.50,90.27 L108.50,90.54 L109.50,90.81 L110.50,91.08 L111.50,91.36 L112.50,91.64 L113.50,91.92 L114.50,92.20 L115.50,92.48 L116.50,92.77 L117.50,93.06 L118.50,93.35 L119.50,93.64 L120.50,93.94 L121.50,94.23 L122.50,94.53 L123.50,94.84 L124.50,95.14 L125.50,95.45 L126.50,95.76 L127.50,96.07 L128.50,96.38 L129.50,96.70 L130.50,97.01 L131.50,97.33 L132.50,97.66 L133.50,97.98 L134.50,98.31 L135.50,98.64 L136.50,98.97 L137.50,99.31 L138.50,99.65 L139.50,99.99 L140.50,100.33 L141.50,100.68 L142.50,101.02 L143.50,101.37 L144.50,101.73 L145.50,102.08 L146.50,102.44 L147.50,102.80 L148.50,103.17 L149.50,103.53 L150.50,103.90 L151.50,104.27 L152.50,104.65 L153.50,105.03 L154.50,105.41 L155.50,105.79 L156.50,106.18 L157.50,106.56 L158.50,106.96 L159.50,107.35 L160.50,107.75 L161.50,108.15 L162.50,108.55 L163.50,108.96 L164.50,109.37 L165.50,109.78 L166.50,110.19 L167.50,110.61 L168.50,111.03 L169.50,111.45 L170.50,111.88 L171.50,112.31 L172.50,112.74 L173.50,113.18 L174.50,113.62 L175.50,114.06 L176.50,114.51 L177.50,114.96 L178.50,115.41 L179.50,115.86 L180.50,116.32 L181.50,116.78 L182.50,117.25 L183.50,117.72 L184.50,118.19 L185.50,118.66 L186.50,119.14 L187.50,119.62 L188.50,120.11 L189.50,120.59 L190.50,121.08 L191.50,121.58 L192.50,122.08 L193.50,122.58 L194.50,123.08 L195.50,123.59 L196.50,124.10 L197.50,124.62 L198.50,125.14 L199.50,125.66 L200.50,126.19 L201.50,126.72 L202.50,127.25 L203.50,127.79 L204.50,128.33 L205.50,128.87 L206.50,129.42 L207.50,129.97 L208.50,130.52 L209.50,131.08 L210.50,131.64 L211.50,132.21 L212.50,132.78 L213.50,133.35 L214.50,133.92 L215.50,134.51 L216.50,135.09 L217.50,135.68 L218.50,136.27 L219.50,136.86 L220.50,137.46 L221.50,138.06 L222.50,138.67 L223.50,139.28 L224.50,139.89 L225.50,140.51 L226.50,141.13 L227.50,141.76 L228.50,142.39 L229.50,143.02 L230.50,143.66 L231.50,144.30 L232.50,144.94 L233.50,145.59 L234.50,146.24 L235.50,146.90 L236.50,147.56 L237.50,148.22 L238.50,148.89 L239.50,149.56 L240.50,150.23 L241.50,150.91 L242.50,151.60 L243.50,152.28 L244.50,152.97 L245.50,153.67 L246.50,154.36 L247.50,155.07 L248.50,155.77 L249.50,156.48 L250.50,157.19 L251.50,157.91 L252.50,158.63 L253.50,159.35 L254.50,160.08 L255.50,160.81 L256.50,161.55 L257.50,162.29 L258.50,163.03 L259.50,163.78 L260.50,164.53 L261.50,165.28 L262.50,166.04 L263.50,166.80 L264.50,167.56 L265.50,168.33 L266.50,169.10 L267.50,169.88 L268.50,170.65 L269.50,171.44 L270.50,172.22 L271.50,173.01 L272.50,173.80 L273.50,174.60 L274.50,175.40 L275.50,176.20 L276.50,177.00 L277.50,177.81 L278.50,178.62 L279.50,179.44 L280.50,180.25 L281.50,181.07 L282.50,181.90 L283.50,182.72 L284.50,183.55 L285.50,184.38 L286.50,185.22 L287.50,186.06 L288.50,186.90 L289.50,187.74 L290.50,188.58 L291.50,189.43 L292.50,190.28 L293.50,191.13 L294.50,191.99 L295.50,192.84 L296.50,193.70 L297.50,194.57 L298.50,195.43 L299.50,196.29 L300.50,197.16 L301.50,198.03 L302.50,198.90 L303.50,199.77 L304.50,200.65 L305.50,201.52 L306.50,202.40 L307.50,203.28 L308.50,204.16 L309.50,205.04 L310.50,205.92 L311.50,206.80 L312.50,207.69 L313.50,208.57 L314.50,209.46 L315.50,210.34 L316.50,211.23 L317.50,212.12 L318.50,213.00 L319.50,213.89 L320.50,214.78 L321.50,215.67 L322.50,216.55 L323.50,217.44 L324.50,218.33 L325.50,219.21 L326.50,220.10 L327.50,220.98 L328.50,221.87 L329.50,222.75 L330.50,223.63 L331.50,224.51 L332.50,225.39 L333.50,226.27 L334.50,227.14 L335.50,228.02 L336.50,228.89 L337.50,229.76 L338.50,230.63 L339.50,231.49 L340.50,232.36 L341.50,233.22 L342.50,234.08 L343.50,234.93 L344.50,235.78 L345.50,236.63 L346.50,237.48 L347.50,238.32 L348.50,239.16 L349.50,240.00 L350.50,240.83 L351.50,241.65 L352.50,242.48 L353.50,243.30 L354.50,244.11 L355.50,244.92 L356.50,245.72 L357.50,246.52 L358.50,247.32 L359.50,248.11 L360.50,248.89 L361.50,249.67 L362.50,250.44 L363.50,251.21 L364.50,251.97 L365.30,252.58" fill="none" stroke="#00ff00" stroke-width="3.1"/>
<path d="M373.00,258.19 L374.00,258.89 L375.00,259.58 L376.00,260.26 L377.00,260.94 L378.00,261.61 L379.00,262.27 L380.00,262.92 L381.00,263.56 L382.00,264.20 L383.00,264.83 L384.00,265.45 L385.00,266.06 L386.00,266.66 L387.00,267.25 L388.00,267.84 L389.00,268.42 L390.00,268.98 L391.00,269.54 L392.00,270.09 L393.00,270.63 L394.00,271.17 L395.00,271.69 L396.00,272.20 L397.00,272.71 L398.00,273.20 L399.00,273.69 L400.00,274.16 L401.00,274.63 L402.00,275.08 L403.00,275.53 L404.00,275.97 L405.00,276.40 L406.00,276.82 L407.00,277.23 L408.00,277.63 L408.90,277.98" fill="none" stroke="#00ff00" stroke-width="3.6"/>
<path d="M410.00,278.40 L411.00,278.78 L412.00,279.14 L413.00,279.49 L414.00,279.84 L415.00,280.17 L416.00,280.50 L417.00,280.82 L418.00,281.13 L419.00,281.43 L420.00,281.72 L421.00,282.00 L422.00,282.27 L423.00,282.54 L424.00,282.80 L425.00,283.05 L426.00,283.29 L427.00,283.52 L428.00,283.74 L429.00,283.96 L430.00,284.17 L431.00,284.37 L432.00,284.56 L433.00,284.75 L434.00,284.93 L435.00,285.10 L436.00,285.27 L437.00,285.43 L438.00,285.58 L439.00,285.73 L440.00,285.87 L441.00,286.00 L442.00,286.13 L443.00,286.25 L444.00,286.37 L445.00,286.48 L446.00,286.59 L447.00,286.69 L448.00,286.78 L449.00,286.87 L450.00,286.96 L451.00,287.04 L452.00,287.12 L453.00,287.19 L454.00,287.26 L455.00,287.33 L456.00,287.39 L457.00,287.45 L458.00,287.50 L459.00,287.55 L460.00,287.60 L461.00,287.65 L462.00,287.69 L463.00,287.73 L464.00,287.77 L465.00,287.80 L466.00,287.83 L467.00,287.86 L468.00,287.89 L469.00,287.92 L470.00,287.94 L471.00,287.97 L472.00,287.99 L473.00,288.01 L474.00,288.02 L475.00,288.04 L476.00,288.05 L477.00,288.07 L478.00,288.08 L479.00,288.09 L480.00,288.10 L481.00,288.11 L482.00,288.12 L483.00,288.13 L484.00,288.14 L485.00,288.14 L486.00,288.15 L487.00,288.16 L488.00,288.16 L489.00,288.16 L490.00,288.17 L491.00,288.17 L492.00,288.18 L493.00,288.18 L494.00,288.18 L495.00,288.18 L496.00,288.19 L497.00,288.19 L498.00,288.19 L499.00,288.19 L500.00,288.19 L501.00,288.19 L502.00,288.19 L503.00,288.19 L504.00,288.20 L505.00,288.20 L506.00,288.20 L507.00,288.20 L508.00,288.20 L509.00,288.20 L510.00,288.20 L511.00,288.20 L512.00,288.20 L513.00,288.20 L514.00,288.20 L515.00,288.20 L516.00,288.20 L517.00,288.20 L518.00,288.20 L519.00,288.20 L520.00,288.20 L521.00,288.20 L522.00,288.20 L523.00,288.20 L524.00,288.20 L525.00,288.20 L526.00,288.20 L527.00,288.20 L528.00,288.20 L529.00,288.20 L530.00,288.20 L531.00,288.20 L532.00,288.20 L533.00,288.20 L534.00,288.20 L535.00,288.20 L536.00,288.20 L537.00,288.20 L538.00,288.20 L539.00,288.20 L540.00,288.20 L541.00,288.20 L542.00,288.20 L543.00,288.20 L544.00,288.20 L545.00,288.20 L546.00,288.20 L547.00,288.20 L548.00,288.20 L549.00,288.20 L550.00,288.20 L551.00,288.20 L552.00,288.20 L553.00,288.20 L554.00,288.20 L555.00,288.20 L556.00,288.20 L557.00,288.20 L558.00,288.20 L559.00,288.20 L560.00,288.20 L561.00,288.20 L562.00,288.20 L563.00,288.20 L564.00,288.20 L565.00,288.20 L566.00,288.20 L567.00,288.20 L568.00,288.20 L569.00,288.20 L570.00,288.20 L571.00,288.20 L572.00,288.20 L573.00,288.20 L574.00,288.20 L575.00,288.20 L576.00,288.20 L577.00,288.20 L578.00,288.20 L579.00,288.20 L580.00,288.20 L581.00,288.20 L582.00,288.20 L583.00,288.20 L584.00,288.20 L585.00,288.20 L586.00,288.20 L587.00,288.20 L588.00,288.20 L589.00,288.20 L590.00,288.20 L591.00,288.20 L592.00,288.20 L593.00,288.20 L594.00,288.20 L595.00,288.20 L596.00,288.20 L597.00,288.20 L598.00,288.20 L599.00,288.20 L600.00,288.20 L601.00,288.20 L602.00,288.20 L603.00,288.20 L604.00,288.20 L605.00,288.20 L606.00,288.20 L607.00,288.20 L608.00,288.20 L609.00,288.20 L610.00,288.20 L611.00,288.20 L612.00,288.20 L613.00,288.20 L614.00,288.20 L615.00,288.20 L616.00,288.20 L617.00,288.20 L618.00,288.20 L619.00,288.20 L620.00,288.20 L621.00,288.20 L622.00,288.20 L623.00,288.20 L624.00,288.20 L625.00,288.20 L626.00,288.20 L627.00,288.20 L628.00,288.20 L629.00,288.20 L630.00,288.20 L631.00,288.20 L632.00,288.20 L633.00,288.20 L634.00,288.20 L635.00,288.20 L636.00,288.20 L637.00,288.20 L638.00,288.20 L639.00,288.20 L640.00,288.20 L641.00,288.20 L642.00,288.20 L643.00,288.20 L644.00,288.20 L645.00,288.20 L646.00,288.20 L647.00,288.20 L648.00,288.20 L649.00,288.20 L650.00,288.20 L651.00,288.20 L652.00,288.20 L653.00,288.20 L654.00,288.20 L655.00,288.20 L656.00,288.20 L657.00,288.20 L658.00,288.20 L659.00,288.20 L660.00,288.20 L661.00,288.20 L662.00,288.20 L663.00,288.20 L664.00,288.20 L665.00,288.20 L666.00,288.20 L667.00,288.20 L668.00,288.20 L669.00,288.20 L670.00,288.20 L671.00,288.20 L672.00,288.20 L673.00,288.20 L674.00,288.20 L675.00,288.20 L676.00,288.20 L677.00,288.20 L678.00,288.20 L679.00,288.20 L680.00,288.20 L681.00,288.20 L682.00,288.20 L683.00,288.20 L684.00,288.20 L685.00,288.20 L686.00,288.20 L687.00,288.20 L688.00,288.20 L689.00,288.20 L690.00,288.20 L691.00,288.20 L692.00,288.20 L693.00,288.20 L694.00,288.20 L695.00,288.20 L696.00,288.20 L697.00,288.20 L698.00,288.20 L699.00,288.20 L700.00,288.20 L701.00,288.20 L702.00,288.20 L703.00,288.20 L704.00,288.20 L705.00,288.20 L706.00,288.20 L707.00,288.20 L708.00,288.20 L709.00,288.20 L710.00,288.20 L711.00,288.20 L712.00,288.20 L713.00,288.20 L714.00,288.20 L715.00,288.20 L716.00,288.20 L717.00,288.20 L718.00,288.20 L719.00,288.20 L720.00,288.20 L721.00,288.20 L722.00,288.20 L723.00,288.20 L724.00,288.20 L725.00,288.20 L726.00,288.20 L727.00,288.20 L728.00,288.20 L729.00,288.20 L730.00,288.20 L731.00,288.20 L732.00,288.20 L733.00,288.20 L734.00,288.20 L735.00,288.20 L736.00,288.20 L737.00,288.20 L738.00,288.20 L739.00,288.20 L740.00,288.20 L741.00,288.20 L742.00,288.20 L743.00,288.20 L744.00,288.20 L745.00,288.20 L746.00,288.20 L747.00,288.20 L748.00,288.20 L749.00,288.20 L750.00,288.20 L751.00,288.20 L752.00,288.20 L753.00,288.20 L754.00,288.20 L755.00,288.20 L756.00,288.20 L757.00,288.20 L758.00,288.20 L759.00,288.20 L760.00,288.20 L761.00,288.20 L762.00,288.20 L763.00,288.20 L764.00,288.20 L765.00,288.20 L766.00,288.20 L767.00,288.20 L768.00,288.20 L769.00,288.20 L770.00,288.20 L771.00,288.20 L772.00,288.20 L773.00,288.20 L774.00,288.20 L775.00,288.20 L776.00,288.20 L777.00,288.20 L778.00,288.20" fill="none" stroke="#00ff00" stroke-width="3.6"/>
<path d="M45.00,76.95 L46.00,77.11 L47.00,77.28 L48.00,77.45 L49.00,77.62 L50.00,77.79 L51.00,77.96 L52.00,78.14 L53.00,78.31 L54.00,78.49 L55.00,78.67 L56.00,78.85 L57.00,79.03 L58.00,79.21 L59.00,79.40 L60.00,79.58 L61.00,79.77 L62.00,79.96 L63.00,80.15 L64.00,80.34 L65.00,80.53 L66.00,80.73 L67.00,80.92 L68.00,81.12 L69.00,81.32 L70.00,81.52 L71.00,81.72 L72.00,81.92 L73.00,82.13 L74.00,82.34 L75.00,82.54 L76.00,82.75 L77.00,82.97 L78.00,83.18 L79.00,83.39 L80.00,83.61 L81.00,83.83 L82.00,84.05 L83.00,84.27 L84.00,84.49 L85.00,84.72 L86.00,84.95 L87.00,85.17 L88.00,85.41 L89.00,85.64 L90.00,85.87 L91.00,86.11 L92.00,86.34 L93.00,86.58 L94.00,86.82 L95.00,87.07 L96.00,87.31 L97.00,87.56 L98.00,87.81 L99.00,88.06 L100.00,88.31 L101.00,88.57 L102.00,88.82 L103.00,89.08 L104.00,89.34 L105.00,89.60 L106.00,89.87 L107.00,90.13 L108.00,90.40 L109.00,90.67 L110.00,90.95 L111.00,91.22 L112.00,91.50 L113.00,91.78 L114.00,92.06 L115.00,92.34 L116.00,92.63 L117.00,92.91 L118.00,93.20 L119.00,93.49 L120.00,93.79 L121.00,94.09 L122.00,94.38 L123.00,94.68 L124.00,94.99 L125.00,95.29 L126.00,95.60 L127.00,95.91 L128.00,96.22 L129.00,96.54 L130.00,96.85 L131.00,97.17 L132.00,97.50 L133.00,97.82 L134.00,98.15 L135.00,98.48 L136.00,98.81 L137.00,99.14 L138.00,99.48 L139.00,99.82 L140.00,100.16 L141.00,100.50 L142.00,100.85 L143.00,101.20 L144.00,101.55 L145.00,101.91 L146.00,102.26 L147.00,102.62 L148.00,102.99 L149.00,103.35 L150.00,103.72 L151.00,104.09 L152.00,104.46 L153.00,104.84 L154.00,105.22 L155.00,105.60 L156.00,105.98 L157.00,106.37 L158.00,106.76 L159.00,107.15 L160.00,107.55 L161.00,107.95 L162.00,108.35 L163.00,108.75 L164.00,109.16 L165.00,109.57 L166.00,109.98 L167.00,110.40 L168.00,110.82 L169.00,111.24 L170.00,111.67 L171.00,112.10 L172.00,112.53 L173.00,112.96 L174.00,113.40 L175.00,113.84 L176.00,114.28 L177.00,114.73 L178.00,115.18 L179.00,115.64 L180.00,116.09 L181.00,116.55 L182.00,117.02 L183.00,117.48 L184.00,117.95 L185.00,118.42 L186.00,118.90 L187.00,119.38 L188.00,119.86 L189.00,120.35 L190.00,120.84 L191.00,121.33 L192.00,121.83 L193.00,122.33 L194.00,122.83 L195.00,123.34 L196.00,123.85 L197.00,124.36 L198.00,124.88 L199.00,125.40 L200.00,125.92 L201.00,126.45 L202.00,126.98 L203.00,127.51 L204.00,128.05 L205.00,128.59 L206.00,129.14 L207.00,129.68 L208.00,130.23 L209.00,130.79 L210.00,131.34 L211.00,131.90 L212.00,132.47 L213.00,133.03 L214.00,133.60 L215.00,134.18 L216.00,134.76 L217.00,135.34 L218.00,135.92 L219.00,136.51 L220.00,137.10 L221.00,137.70 L222.00,138.29 L223.00,138.90 L224.00,139.50 L225.00,140.11 L226.00,140.72 L227.00,141.34 L228.00,141.96 L229.00,142.59 L230.00,143.21 L231.00,143.85 L232.00,144.48 L233.00,145.12 L234.00,145.76 L235.00,146.41 L236.00,147.06 L237.00,147.71 L238.00,148.37 L239.00,149.03 L240.00,149.70 L241.00,150.36 L242.00,151.04 L243.00,151.71 L244.00,152.39 L245.00,153.07 L246.00,153.75 L247.00,154.44 L248.00,155.13 L249.00,155.82 L250.00,156.52 L251.00,157.22 L252.00,157.92 L253.00,158.63 L254.00,159.34 L255.00,160.05 L256.00,160.76 L257.00,161.47 L258.00,162.19 L259.00,162.91 L260.00,163.63 L261.00,164.35 L262.00,165.07 L263.00,165.79 L264.00,166.52 L265.00,167.25 L266.00,167.97 L267.00,168.70 L268.00,169.42 L269.00,170.15 L270.00,170.87 L271.00,171.59 L272.00,172.32 L273.00,173.04 L274.00,173.77 L275.00,174.50 L276.00,175.22 L277.00,175.95 L278.00,176.67 L279.00,177.40 L280.00,178.12 L281.00,178.85 L282.00,179.57 L283.00,180.30 L284.00,181.03 L285.00,181.77 L286.00,182.50 L287.00,183.24 L288.00,183.99 L289.00,184.73 L290.00,185.47 L291.00,186.22 L292.00,186.97 L293.00,187.71 L294.00,188.46 L295.00,189.22 L296.00,189.98 L297.00,190.74 L298.00,191.52 L299.00,192.30 L300.00,193.08 L301.00,193.86 L302.00,194.64 L303.00,195.42 L304.00,196.19 L305.00,196.95 L306.00,197.71 L307.00,198.45 L308.00,199.18 L309.00,199.90 L310.00,200.60 L311.00,201.30 L312.00,201.98 L313.00,202.66 L314.00,203.33 L315.00,203.99 L316.00,204.66 L317.00,205.32 L318.00,205.99 L319.00,206.65 L320.00,207.32 L321.00,208.00 L322.00,208.68 L323.00,209.38 L324.00,210.08 L325.00,210.78 L326.00,211.48 L327.00,212.19 L328.00,212.88 L329.00,213.58 L330.00,214.26 L331.00,214.93 L332.00,215.59 L333.00,216.23 L334.00,216.85 L335.00,217.45 L336.00,218.05 L337.00,218.63 L338.00,219.21 L339.00,219.77 L340.00,220.33 L341.00,220.89 L342.00,221.43 L343.00,221.98 L344.00,222.53 L345.00,223.07 L346.00,223.62 L347.00,224.16 L348.00,224.72 L349.00,225.28 L350.00,225.84 L351.00,226.40 L352.00,226.97 L353.00,227.54 L354.00,228.11 L355.00,228.67 L356.00,229.23 L357.00,229.79 L358.00,230.34 L359.00,230.89 L360.00,231.42 L361.00,231.95 L362.00,232.47 L363.00,232.98 L364.00,233.47 L365.00,233.95 L366.00,234.42 L367.00,234.87 L368.00,235.30 L369.00,235.72 L370.00,236.13 L371.00,236.54 L372.00,236.93 L373.00,237.32 L374.00,237.71 L375.00,238.08 L376.00,238.45 L377.00,238.82 L378.00,239.18 L379.00,239.53 L380.00,239.88 L381.00,240.22 L382.00,240.56 L383.00,240.89 L384.00,241.22 L385.00,241.54 L386.00,241.86 L387.00,242.18 L388.00,242.49 L389.00,242.80 L390.00,243.10 L391.00,243.40 L392.00,243.70 L393.00,244.00 L394.00,244.29 L395.00,244.57 L396.00,244.85 L397.00,245.13 L398.00,245.41 L399.00,245.68 L400.00,245.95 L401.00,246.21 L402.00,246.47 L403.00,246.73 L404.00,246.99 L405.00,247.24 L406.00,247.49 L407.00,247.74 L408.00,247.99 L409.00,248.23 L410.00,248.48 L411.00,248.72 L412.00,248.96 L413.00,249.20 L414.00,249.43 L415.00,249.67 L416.00,249.91 L417.00,250.14 L418.00,250.37 L419.00,250.60 L420.00,250.83 L421.00,251.06 L422.00,251.28 L423.00,251.50 L424.00,251.72 L425.00,251.94 L426.00,252.15 L427.00,252.37 L428.00,252.58 L429.00,252.79 L430.00,253.01 L431.00,253.22 L432.00,253.43 L433.00,253.64 L434.00,253.84 L435.00,254.05 L436.00,254.26 L437.00,254.47 L438.00,254.68 L439.00,254.89 L440.00,255.10 L441.00,255.30 L442.00,255.51 L443.00,255.72 L444.00,255.93 L445.00,256.13 L446.00,256.33 L447.00,256.54 L448.00,256.74 L449.00,256.94 L450.00,257.14 L451.00,257.34 L452.00,257.54 L453.00,257.74 L454.00,257.95 L455.00,258.15 L456.00,258.35 L457.00,258.55 L458.00,258.75 L459.00,258.95 L460.00,259.16 L461.00,259.36 L462.00,259.56 L463.00,259.77 L464.00,259.98 L465.00,260.18 L466.00,260.39 L467.00,260.60 L468.00,260.81 L469.00,261.02 L470.00,261.23 L471.00,261.45 L472.00,261.66 L473.00,261.87 L474.00,262.09 L475.00,262.30 L476.00,262.51 L477.00,262.73 L478.00,262.94 L479.00,263.16 L480.00,263.37 L481.00,263.59 L482.00,263.80 L483.00,264.01 L484.00,264.23 L485.00,264.44 L486.00,264.65 L487.00,264.87 L488.00,265.08 L489.00,265.29 L490.00,265.50 L491.00,265.71 L492.00,265.92 L493.00,266.13 L494.00,266.34 L495.00,266.54 L496.00,266.75 L497.00,266.96 L498.00,267.17 L499.00,267.38 L500.00,267.58 L501.00,267.79 L502.00,268.00 L503.00,268.21 L504.00,268.42 L505.00,268.64 L506.00,268.85 L507.00,269.06 L508.00,269.28 L509.00,269.49 L510.00,269.70 L511.00,269.91 L512.00,270.11 L513.00,270.31 L514.00,270.50 L515.00,270.69 L516.00,270.87 L517.00,271.04 L518.00,271.22 L519.00,271.39 L520.00,271.56 L521.00,271.73 L522.00,271.90 L523.00,272.07 L524.00,272.24 L525.00,272.42 L526.00,272.60 L527.00,272.79 L528.00,272.99 L529.00,273.19 L530.00,273.39 L531.00,273.60 L532.00,273.81 L533.00,274.01 L534.00,274.22 L535.00,274.41 L536.00,274.61 L537.00,274.79 L538.00,274.97 L539.00,275.13 L540.00,275.30 L541.00,275.46 L542.00,275.62 L543.00,275.77 L544.00,275.92 L545.00,276.07 L546.00,276.22 L547.00,276.37 L548.00,276.51 L549.00,276.65 L550.00,276.79 L551.00,276.93 L552.00,277.07 L553.00,277.20 L554.00,277.34 L555.00,277.47 L556.00,277.60 L557.00,277.73 L558.00,277.86 L559.00,277.98 L560.00,278.11 L561.00,278.24 L562.00,278.36 L563.00,278.49 L564.00,278.61 L565.00,278.73 L566.00,278.85 L567.00,278.97 L568.00,279.09 L569.00,279.21 L570.00,279.33 L571.00,279.44 L572.00,279.56 L573.00,279.67 L574.00,279.78 L575.00,279.90 L576.00,280.01 L577.00,280.12 L578.00,280.22 L579.00,280.33 L580.00,280.44 L581.00,280.54 L582.00,280.65 L583.00,280.75 L584.00,280.86 L585.00,280.96 L586.00,281.06 L587.00,281.16 L588.00,281.26 L589.00,281.36 L590.00,281.46 L591.00,281.55 L592.00,281.65 L593.00,281.75 L594.00,281.84 L595.00,281.94 L596.00,282.03 L597.00,282.12 L598.00,282.21 L599.00,282.31 L600.00,282.40 L601.00,282.49 L602.00,282.57 L603.00,282.66 L604.00,282.75 L605.00,282.84 L606.00,282.92 L607.00,283.01 L608.00,283.09 L609.00,283.18 L610.00,283.26 L611.00,283.34 L612.00,283.42 L613.00,283.51 L614.00,283.59 L615.00,283.67 L616.00,283.75 L617.00,283.83 L618.00,283.91 L619.00,283.99 L620.00,284.07 L621.00,284.15 L622.00,284.23 L623.00,284.30 L624.00,284.38 L625.00,284.45 L626.00,284.53 L627.00,284.60 L628.00,284.67 L629.00,284.74 L630.00,284.81 L631.00,284.87 L632.00,284.94 L633.00,285.00 L634.00,285.06 L635.00,285.12 L636.00,285.18 L637.00,285.24 L638.00,285.30 L639.00,285.35 L640.00,285.41 L641.00,285.46 L642.00,285.52 L643.00,285.57 L644.00,285.62 L645.00,285.67 L646.00,285.72 L647.00,285.77 L648.00,285.82 L649.00,285.87 L650.00,285.91 L651.00,285.96 L652.00,286.00 L653.00,286.05 L654.00,286.10 L655.00,286.14 L656.00,286.18 L657.00,286.23 L658.00,286.27 L659.00,286.31 L660.00,286.36 L661.00,286.40 L662.00,286.44 L663.00,286.49 L664.00,286.53 L665.00,286.58 L666.00,286.63 L667.00,286.67 L668.00,286.72 L669.00,286.76 L670.00,286.81 L671.00,286.86 L672.00,286.90 L673.00,286.95 L674.00,286.99 L675.00,287.04 L676.00,287.08 L677.00,287.12 L678.00,287.17 L679.00,287.21 L680.00,287.25 L681.00,287.29 L682.00,287.33 L683.00,287.37 L684.00,287.41 L685.00,287.44 L686.00,287.48 L687.00,287.51 L688.00,287.55 L689.00,287.58 L690.00,287.61 L691.00,287.63 L692.00,287.66 L693.00,287.68 L694.00,287.71 L695.00,287.73 L696.00,287.75 L697.00,287.76 L698.00,287.78 L699.00,287.79 L700.00,287.80 L701.00,287.81 L702.00,287.82 L703.00,287.83 L704.00,287.83 L705.00,287.84 L706.00,287.85 L707.00,287.86 L708.00,287.87 L709.00,287.88 L710.00,287.88 L711.00,287.89 L712.00,287.90 L713.00,287.91 L714.00,287.91 L715.00,287.92 L716.00,287.93 L717.00,287.94 L718.00,287.94 L719.00,287.95 L720.00,287.96 L721.00,287.96 L722.00,287.97 L723.00,287.98 L724.00,287.98 L725.00,287.99 L726.00,288.00 L727.00,288.00 L728.00,288.01 L729.00,288.01 L730.00,288.02 L731.00,288.03 L732.00,288.03 L733.00,288.04 L734.00,288.04 L735.00,288.05 L736.00,288.05 L737.00,288.06 L738.00,288.06 L739.00,288.07 L740.00,288.08 L741.00,288.08 L742.00,288.08 L743.00,288.09 L744.00,288.09 L745.00,288.10 L746.00,288.10 L747.00,288.11 L748.00,288.11 L749.00,288.12 L750.00,288.12 L751.00,288.12 L752.00,288.13 L753.00,288.13 L754.00,288.13 L755.00,288.14 L756.00,288.14 L757.00,288.15 L758.00,288.15 L759.00,288.15 L760.00,288.15 L761.00,288.16 L762.00,288.16 L763.00,288.16 L764.00,288.17 L765.00,288.17 L766.00,288.17 L767.00,288.17 L768.00,288.18 L769.00,288.18 L770.00,288.18 L771.00,288.18 L772.00,288.18 L773.00,288.19 L774.00,288.19 L775.00,288.19 L776.00,288.19 L777.00,288.19 L778.00,288.19" fill="none" stroke="#00ff00" stroke-width="2.7" stroke-dasharray="9.9 5.3" stroke-dashoffset="0"/>
</g>
<line x1="30.8" y1="288.09999999999997" x2="791.7" y2="288.09999999999997" stroke="#000" stroke-width="3.0"/>
<line x1="46.55" y1="45.5" x2="46.55" y2="300.7" stroke="#000" stroke-width="3.2"/>
<line x1="48.3" y1="288.09999999999997" x2="51.6" y2="288.09999999999997" stroke="#777" stroke-width="1.4"/>
<g style="filter:grayscale(1)"><text transform="translate(170.9,322.6) scale(0.94,1)" class="t"><tspan letter-spacing="-0.65">10</tspan><tspan dx="-0.8" dy="-11.2" font-size="23.9">4</tspan></text><text transform="translate(317.5,322.6) scale(0.94,1)" class="t"><tspan letter-spacing="-0.65">10</tspan><tspan dx="-0.8" dy="-11.2" font-size="23.9">5</tspan></text><text transform="translate(463.4,322.6) scale(0.94,1)" class="t"><tspan letter-spacing="-0.65">10</tspan><tspan dx="-0.8" dy="-11.2" font-size="23.9">6</tspan></text><text transform="translate(609.3,322.6) scale(0.94,1)" class="t"><tspan letter-spacing="-0.65">10</tspan><tspan dx="-0.8" dy="-11.2" font-size="23.9">7</tspan></text><text transform="translate(755.7,322.6) scale(0.94,1)" class="t"><tspan letter-spacing="-0.65">10</tspan><tspan dx="-0.8" dy="-11.2" font-size="23.9">8</tspan></text><text transform="translate(39.9,254.0) scale(0.94,1)" class="t" text-anchor="end" letter-spacing="-0.54">0.1</text><text transform="translate(39.9,207.6) scale(0.94,1)" class="t" text-anchor="end" letter-spacing="-0.54">0.2</text><text transform="translate(39.9,161.1) scale(0.94,1)" class="t" text-anchor="end" letter-spacing="-0.54">0.3</text><text transform="translate(39.9,114.6) scale(0.94,1)" class="t" text-anchor="end" letter-spacing="-0.54">0.4</text><text transform="translate(39.9,68.1) scale(0.94,1)" class="t" text-anchor="end" letter-spacing="-0.54">0.5</text>
<text x="30.8" y="30.8" class="i" font-size="33.2">P<tspan dx="-1.0" dy="4.1" font-size="23.2">e</tspan></text>
<text x="803.4" y="299" class="i" font-size="33">N</text></g>
</svg>
</body></html>
